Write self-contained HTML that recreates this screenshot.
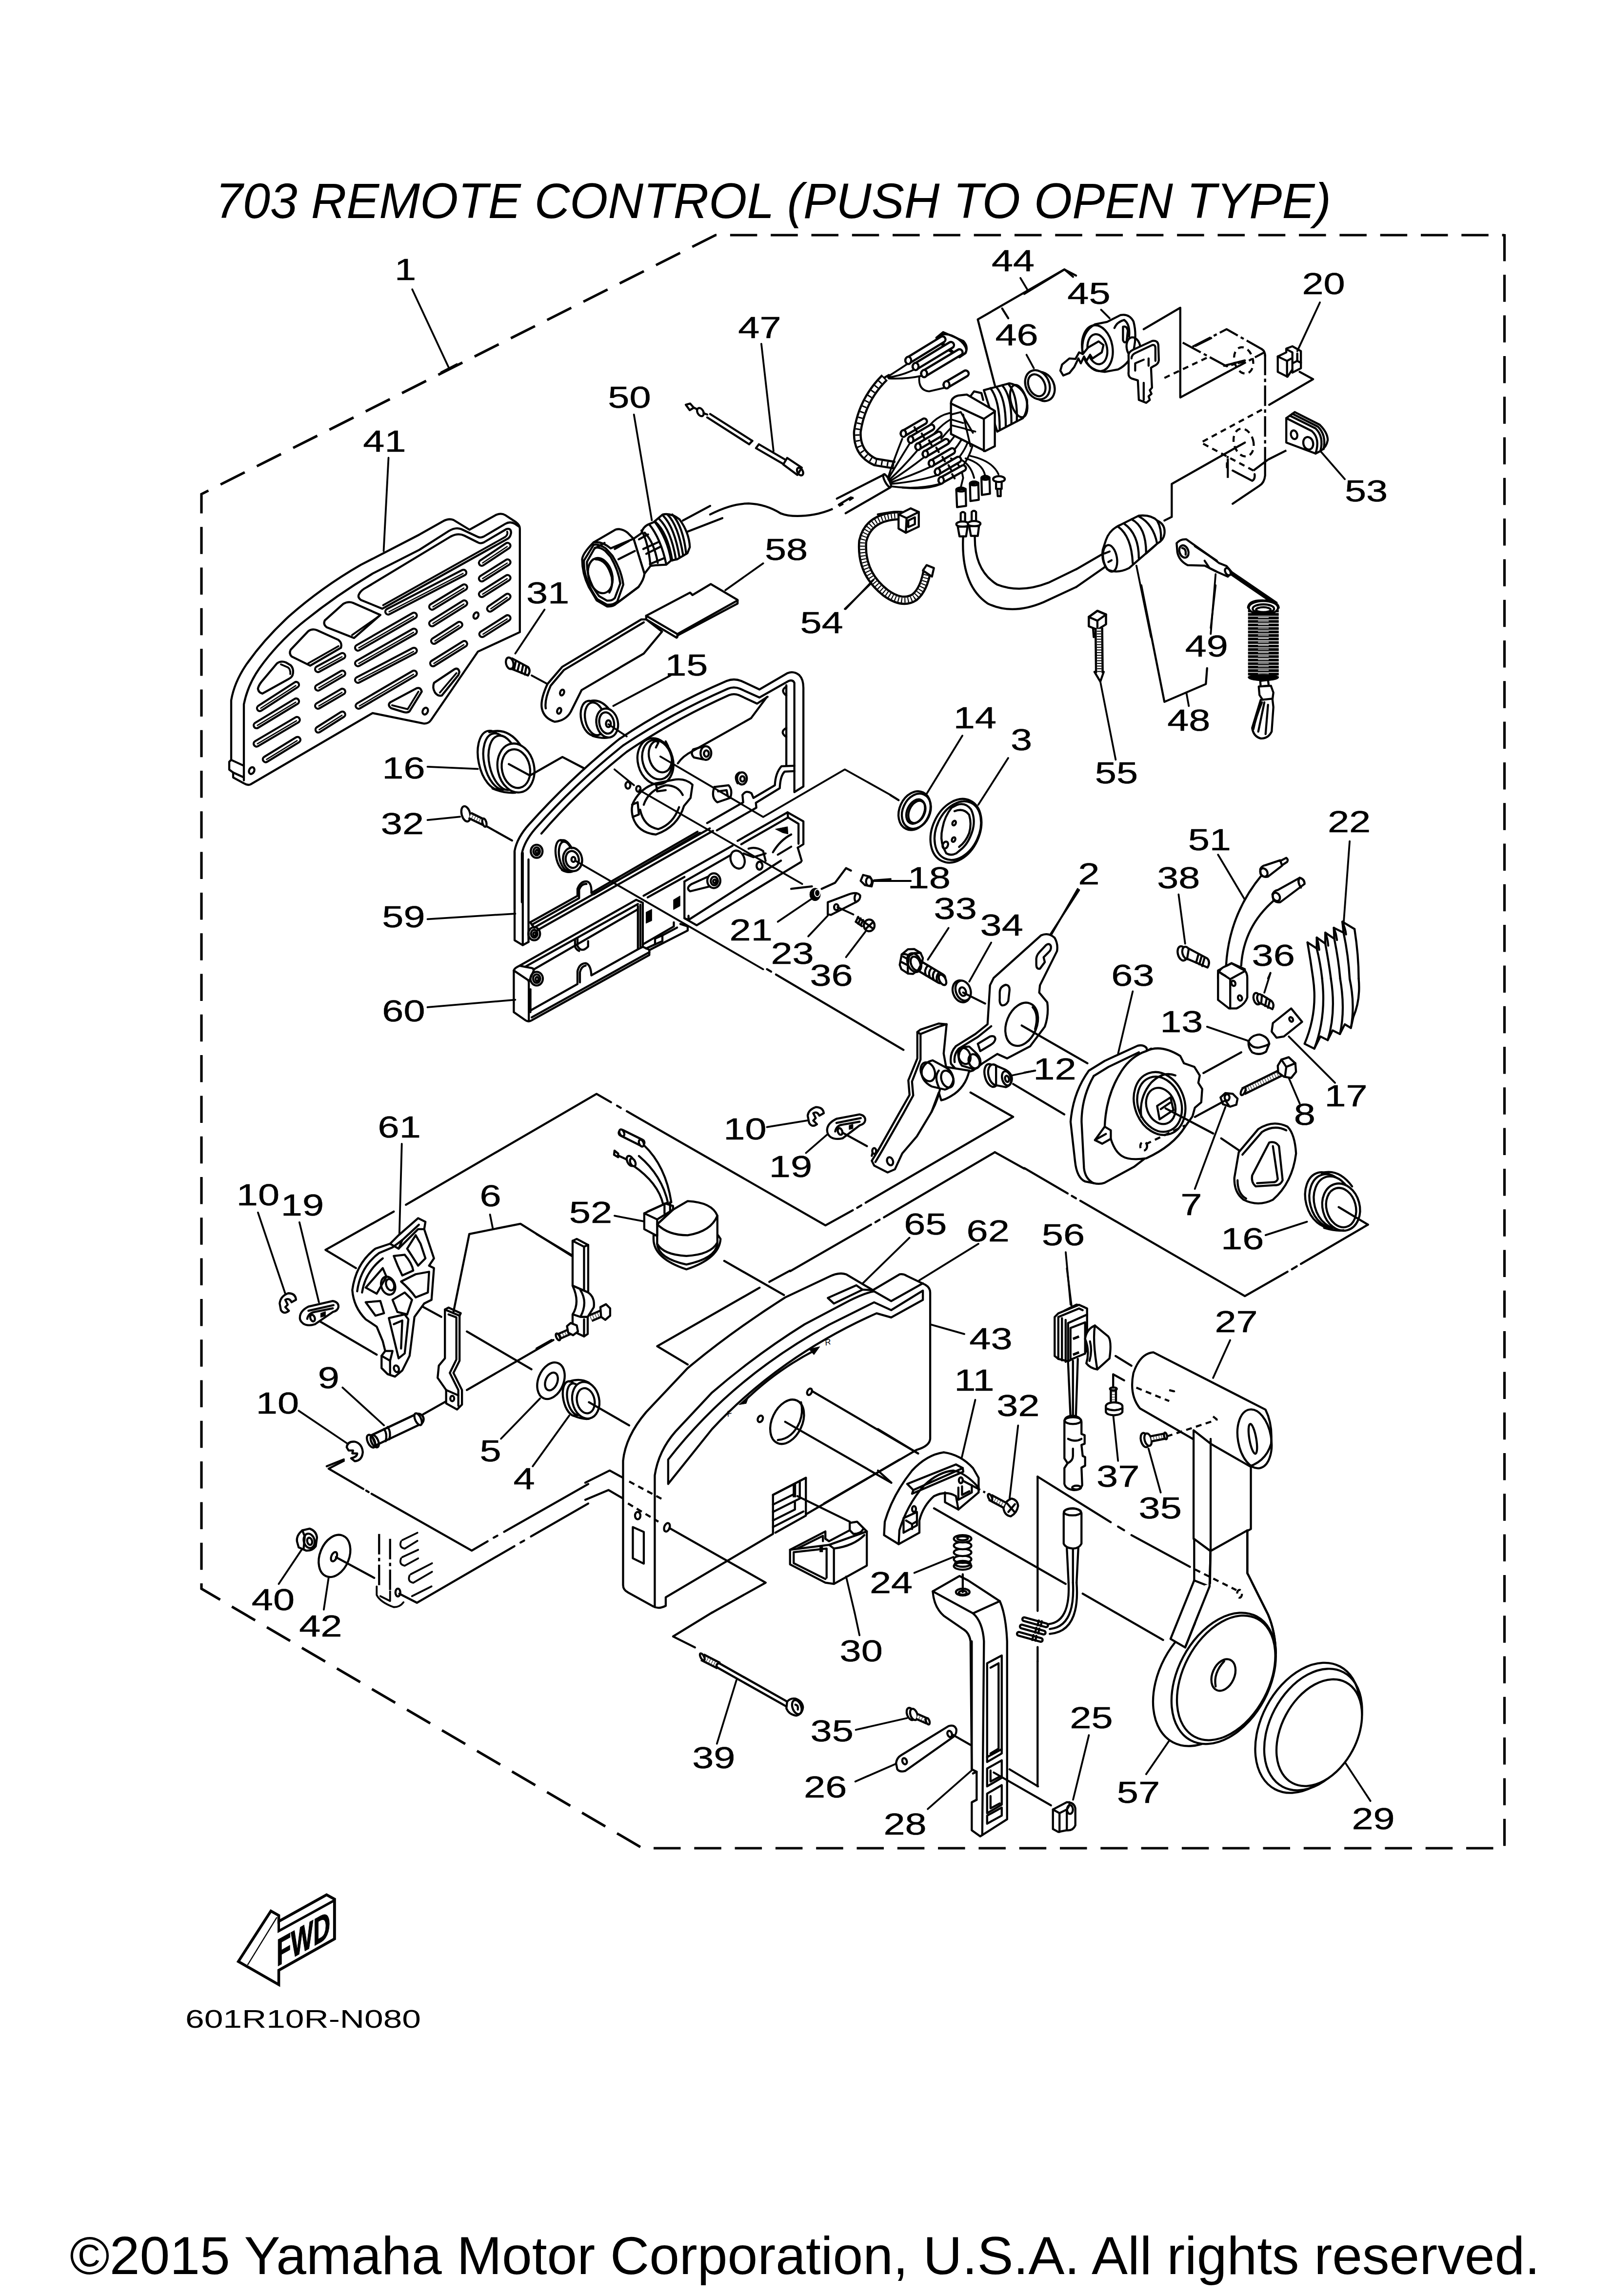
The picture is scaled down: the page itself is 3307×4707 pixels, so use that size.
<!DOCTYPE html>
<html lang="en">
<head>
<meta charset="utf-8">
<title>703 REMOTE CONTROL (PUSH TO OPEN TYPE)</title>
<style>
html,body{margin:0;padding:0;background:#fff;}
body{width:3307px;height:4707px;overflow:hidden;font-family:"Liberation Sans",sans-serif;}
svg{display:block;position:absolute;left:0;top:0;}
svg text{font-family:"Liberation Sans",sans-serif;fill:#000;}
.p,.f,.n,.c,.h,.w,.k{stroke:#000;stroke-width:4.3px;fill:none;stroke-linecap:round;stroke-linejoin:round;vector-effect:non-scaling-stroke;}
.f{fill:#fff;}
.w{fill:#fff;stroke:none;}
.n{stroke-width:3.8px;}
.b{fill:#000;stroke:#000;stroke-width:1px;vector-effect:non-scaling-stroke;}
.c{stroke-dasharray:110 14 10 14;stroke-linecap:butt;}
.k{stroke-dasharray:42 7 7 7;stroke-linecap:butt;}
.h{stroke-dasharray:12 9;stroke-linecap:butt;}
.so{stroke:#000;stroke-width:16px;fill:none;stroke-linecap:round;vector-effect:non-scaling-stroke;}
.si{stroke:#fff;stroke-width:7.6px;fill:none;stroke-linecap:round;vector-effect:non-scaling-stroke;}
.u{stroke:#000;fill:none;stroke-linecap:butt;stroke-linejoin:round;vector-effect:non-scaling-stroke;}
.ui{stroke:#fff;fill:none;stroke-linecap:butt;stroke-linejoin:round;vector-effect:non-scaling-stroke;}
.us{stroke:#000;fill:none;stroke-linecap:butt;vector-effect:non-scaling-stroke;}
.l{font-size:63px;text-anchor:middle;stroke:#000;stroke-width:0.5px;}
.border{stroke:#000;stroke-width:5.2px;fill:none;stroke-dasharray:55.5 27.8;stroke-linecap:butt;}
</style>
</head>
<body>
<svg width="3307" height="4707" viewBox="0 0 3307 4707">
<rect width="3307" height="4707" fill="#fff"/>
<text id="title" x="442" y="447" font-size="102" font-style="italic" textLength="2287" lengthAdjust="spacingAndGlyphs">703 REMOTE CONTROL (PUSH TO OPEN TYPE)</text>
<text id="code" x="380" y="4157" font-size="51" textLength="483" lengthAdjust="spacingAndGlyphs">601R10R-N080</text>
<text id="copy" x="143" y="4662" font-size="110" textLength="3014" lengthAdjust="spacingAndGlyphs">©2015 Yamaha Motor Corporation, U.S.A. All rights reserved.</text>
<path class="border" d="M3084.5 480V3789H1317L413 3257V1013L1467 482H3084.5"/>
<!-- a01_panel41.txt -->
<g transform="translate(460 1040) scale(0.39987)">
<path class="f" d="M25 1305 L35 1295 L35 990 Q50 900 110 810 Q200 680 330 560 Q500 410 700 295 L1000 140 L1120 72 Q1150 55 1175 65 L1257 115 L1395 38 Q1420 28 1440 40 L1495 76 Q1515 90 1515 110 L1515 640 L1300 740 L1060 1090 Q1045 1112 1020 1108 L760 1055 L135 1420 Q120 1428 100 1415 L45 1385 L45 1360 L25 1345 Z"/>
<path class="p" d="M100 1400 L100 1010 Q120 910 180 825 Q270 700 390 600 Q560 460 760 340 L1000 218 L1150 122 Q1185 100 1215 112 L1300 152 Q1313 158 1330 150 L1440 85 Q1465 70 1490 85 L1512 100"/>
<path class="p" d="M35 1295 L100 1325"/>
<path class="p" d="M45 1360 L100 1385"/>
<path class="f" d="M270 800 Q290 785 315 795 L340 810 Q355 825 352 850 Q350 870 330 880 L195 955 Q175 950 172 930 Q175 915 190 895 Z"/>
<path class="n" d="M290 805 L325 820 Q340 830 338 855"/>
<path class="f" d="M430 635 Q450 620 475 630 L585 680 Q605 695 598 720 L440 812 L345 765 Q330 750 340 730 Z"/>
<path class="n" d="M430 800 L585 712"/>
<path class="f" d="M610 495 Q635 480 660 490 L800 552 L665 670 L525 615 Q505 600 515 580 Z"/>
<path class="n" d="M655 655 L790 560"/>
<path class="f" d="M690 446 Q700 425 730 410 L1160 150 Q1198 130 1230 145 L1300 180 Q1313 188 1330 180 L1445 112 Q1470 105 1470 130 Q1468 150 1455 160 L810 520 L700 475 Q682 462 690 446 Z"/>
<path class="n" d="M814 502 L1440 152 Q1455 140 1450 125"/>
<path class="so" d="M182 1030L368 910"/><path class="si" d="M182 1030L368 910"/>
<path class="n" style="stroke-width:2.6px" d="M186.2 1030.3L365.9 914.4"/>
<path class="so" d="M165 1118L368 995"/><path class="si" d="M165 1118L368 995"/>
<path class="n" style="stroke-width:2.6px" d="M169.3 1118.4L365.9 999.3"/>
<path class="so" d="M165 1212L372 1090"/><path class="si" d="M165 1212L372 1090"/>
<path class="n" style="stroke-width:2.6px" d="M169.3 1212.5L369.8 1094.3"/>
<path class="so" d="M212 1292L375 1192"/><path class="si" d="M212 1292L375 1192"/>
<path class="n" style="stroke-width:2.6px" d="M216.3 1292.4L372.9 1196.3"/>
<path class="so" d="M480 830L605 762"/><path class="si" d="M480 830L605 762"/>
<path class="n" style="stroke-width:2.6px" d="M484.4 830.6L602.8 766.2"/>
<path class="so" d="M480 925L605 852"/><path class="si" d="M480 925L605 852"/>
<path class="n" style="stroke-width:2.6px" d="M484.3 925.5L602.8 856.3"/>
<path class="so" d="M480 1018L605 945"/><path class="si" d="M480 1018L605 945"/>
<path class="n" style="stroke-width:2.6px" d="M484.3 1018.5L602.8 949.3"/>
<path class="so" d="M482 1140L605 1062"/><path class="si" d="M482 1140L605 1062"/>
<path class="n" style="stroke-width:2.6px" d="M486.2 1140.3L602.9 1066.3"/>
<path class="so" d="M685 720L972 555"/><path class="si" d="M685 720L972 555"/>
<path class="n" style="stroke-width:2.6px" d="M689.3 720.5L969.8 559.2"/>
<path class="so" d="M685 800L972 637"/><path class="si" d="M685 800L972 637"/>
<path class="n" style="stroke-width:2.6px" d="M689.3 800.5L969.8 641.2"/>
<path class="so" d="M685 885L972 735"/><path class="si" d="M685 885L972 735"/>
<path class="n" style="stroke-width:2.6px" d="M689.4 885.7L969.8 739.2"/>
<path class="so" d="M688 1018L972 852"/><path class="si" d="M688 1018L972 852"/>
<path class="n" style="stroke-width:2.6px" d="M692.3 1018.5L969.8 856.3"/>
<path class="so" d="M840 535L1226 335"/><path class="si" d="M840 535L1226 335"/>
<path class="n" style="stroke-width:2.6px" d="M844.4 535.7L1223.8 339.2"/>
<path class="so" d="M1065 510L1230 410"/><path class="si" d="M1065 510L1230 410"/>
<path class="n" style="stroke-width:2.6px" d="M1069.3 510.4L1227.9 414.3"/>
<path class="so" d="M1065 595L1230 492"/><path class="si" d="M1065 595L1230 492"/>
<path class="n" style="stroke-width:2.6px" d="M1069.2 595.4L1227.9 496.3"/>
<path class="so" d="M1075 685L1205 602"/><path class="si" d="M1075 685L1205 602"/>
<path class="n" style="stroke-width:2.6px" d="M1079.2 685.3L1202.9 606.3"/>
<path class="so" d="M1070 800L1230 700"/><path class="si" d="M1070 800L1230 700"/>
<path class="n" style="stroke-width:2.6px" d="M1074.2 800.4L1227.9 704.3"/>
<path class="so" d="M1320 285L1452 197"/><path class="si" d="M1320 285L1452 197"/>
<path class="n" style="stroke-width:2.6px" d="M1324.2 285.2L1449.9 201.4"/>
<path class="so" d="M1320 365L1452 282"/><path class="si" d="M1320 365L1452 282"/>
<path class="n" style="stroke-width:2.6px" d="M1324.2 365.3L1449.9 286.3"/>
<path class="so" d="M1320 445L1452 362"/><path class="si" d="M1320 445L1452 362"/>
<path class="n" style="stroke-width:2.6px" d="M1324.2 445.3L1449.9 366.3"/>
<path class="so" d="M1362 520L1452 458"/><path class="si" d="M1362 520L1452 458"/>
<path class="n" style="stroke-width:2.6px" d="M1366.1 520.2L1449.9 462.4"/>
<path class="so" d="M1322 650L1452 568"/><path class="si" d="M1322 650L1452 568"/>
<path class="n" style="stroke-width:2.6px" d="M1326.2 650.3L1449.9 572.3"/>
<path class="f" d="M1180 830 Q1200 820 1205 845 L1200 860 L1115 965 Q1095 970 1080 950 Q1065 925 1075 900 Z"/>
<path class="n" d="M1190 850 L1105 950"/>
<path class="f" d="M985 928 Q1005 920 1012 945 L950 1045 Q940 1055 920 1050 L855 1030 Q835 1015 850 1000 Z"/>
<path class="n" d="M995 945 L940 1035 L860 1015"/>
<ellipse class="p" cx="1290" cy="555" rx="12" ry="17" transform="rotate(25 1290 555)"/>
<ellipse class="p" cx="1030" cy="1045" rx="13" ry="18" transform="rotate(25 1030 1045)"/>
<ellipse class="p" cx="140" cy="1350" rx="13" ry="18" transform="rotate(25 140 1350)"/>
</g>

<!-- a02_part60.txt -->
<g transform="translate(1040 1690) scale(0.33478)">
<path class="f" d="M40 895 Q45 878 75 866 L790 462 L830 480 L830 750 L870 768 L870 800 L150 1200 Q130 1212 112 1200 L40 1150 Z"/>
<path class="p" d="M40 895 L125 952 Q132 958 132 970 L132 1205"/>
<path class="p" d="M75 866 L150 880 Q168 884 160 900 L132 965"/>
<path class="p" d="M160 890 L800 520"/>
<path class="p" d="M110 872 L800 488"/>
<path class="p" d="M150 1182 L870 783"/>
<path class="p" d="M142 1150 L142 1010"/>
<path class="p" d="M142 1140 L430 978 L430 900 Q440 852 480 850 Q512 858 515 925 L800 765 L800 500"/>
<path class="p" d="M445 968 L445 905 Q455 868 480 865"/>
<path class="p" d="M430 700 L430 745 Q455 790 495 748 L495 715"/>
<path class="p" d="M415 710 L415 750 Q425 770 440 775"/>
<ellipse class="p" cx="180" cy="945" rx="38" ry="42"/>
<ellipse class="p" cx="180" cy="945" rx="22" ry="26"/>
<ellipse class="p" cx="182" cy="947" rx="9" ry="12"/>
<path class="p" d="M815 492 L815 748"/>
<path class="p" d="M800 765 L830 750"/>
<path class="p" d="M45 165 L45 710 L95 740 L130 720"/>
<path class="p" d="M95 175 L95 738"/>
<path class="p" d="M130 215 L130 720"/>
<ellipse class="p" cx="165" cy="670" rx="36" ry="40"/>
<ellipse class="p" cx="165" cy="670" rx="20" ry="24"/>
<ellipse class="p" cx="167" cy="672" rx="8" ry="11"/>
<ellipse class="p" cx="180" cy="165" rx="36" ry="40"/>
<ellipse class="p" cx="180" cy="165" rx="20" ry="24"/>
<ellipse class="p" cx="182" cy="167" rx="8" ry="11"/>
<path class="p" d="M140 600 L430 438 L430 395 Q450 345 490 350 Q518 360 515 420 L1165 45"/>
<path class="p" d="M150 615 L440 452 L440 400 Q455 362 485 365"/>
<path class="p" d="M530 428 L1180 52"/>
<path class="p" d="M165 632 L1240 25"/>
<path class="p" d="M185 648 L1260 40"/>
<path class="p" d="M140 600 L165 632"/>
<ellipse class="f" cx="340" cy="190" rx="42" ry="95" transform="rotate(-10 340 190)"/>
<ellipse class="f" cx="360" cy="195" rx="42" ry="90" transform="rotate(-10 360 195)"/>
<ellipse class="f" cx="400" cy="215" rx="58" ry="72" transform="rotate(-10 400 215)"/>
<ellipse class="p" cx="398" cy="215" rx="40" ry="52" transform="rotate(-10 398 215)"/>
<ellipse class="p" cx="405" cy="215" rx="12" ry="15"/>
<path class="p" d="M330 100 Q360 85 395 145"/>
<path class="p" d="M335 280 Q370 300 400 288"/>
<path class="b" d="M850 538 L885 520 L885 590 L850 606 Z"/>
<path class="b" d="M1018 462 L1058 438 L1058 500 L1018 522 Z"/>
<path class="p" d="M1085 350 L1085 575 L1160 618 L1798 231"/>
<path class="p" d="M1085 350 L1400 170"/>
<path class="p" d="M835 437 L1380 130"/>
<path class="p" d="M860 447 L1085 322"/>
<path class="p" d="M1110 585 L1676 222"/>
<path class="p" d="M1085 575 L1110 585 L1110 560"/>
<path class="p" d="M830 735 L1020 625 L1020 600"/>
<path class="p" d="M870 770 L1105 650 L1105 625 L1060 610"/>
<path class="p" d="M905 735 L905 700 L950 680 L950 715 Z"/>
<path class="p" d="M850 760 L905 735"/>
<path class="p" d="M950 680 L1040 632"/>
<ellipse class="f" cx="1265" cy="345" rx="40" ry="45"/>
<ellipse class="p" cx="1268" cy="347" rx="22" ry="26"/>
<ellipse class="p" cx="1270" cy="349" rx="9" ry="11"/>
<path class="p" d="M1230 320 L1130 365 Q1090 390 1120 410 L1240 380"/>
</g>

<!-- a03_housing59.txt -->
<g transform="translate(1020 1350) scale(0.49970)">
<path class="p" d="M70 1030 L70 790 Q80 735 130 680 Q300 490 500 330 Q700 195 940 92 Q970 80 1000 92 L1075 127 L1190 60 Q1215 50 1238 68 Q1255 85 1255 120 L1255 525 L1218 548"/>
<path class="p" d="M100 1000 L100 800 Q110 750 155 698 Q320 512 515 357 Q710 227 945 124 Q970 114 995 124 L1075 160 L1195 92 Q1212 86 1218 100 L1218 545"/>
<path class="p" d="M180 718 Q335 538 530 383 Q720 253 950 150 Q970 143 990 150 L1065 185 L1108 157"/>
<path class="p" d="M1105 158 L1040 245 L800 380 Q760 400 740 430"/>
<path class="p" d="M1185 110 L1185 440"/>
<path class="p" d="M1185 115 Q1158 132 1185 152"/>
<path class="p" d="M1185 285 Q1155 302 1185 322"/>
<path class="p" d="M1218 440 L1165 442 Q1140 470 1138 520 L1050 572 L1042 553 Q1020 538 1005 560 L1008 590 L860 675"/>
<path class="p" d="M1218 462 L1178 464 Q1160 482 1158 532 L1060 592 L1062 612 L900 705"/>
<ellipse class="f" cx="855" cy="388" rx="22" ry="28"/>
<ellipse class="p" cx="857" cy="390" rx="10" ry="13"/>
<path class="p" d="M840 362 L803 373 Q790 390 806 406 L845 414"/>
<ellipse class="f" cx="1003" cy="492" rx="20" ry="25"/>
<ellipse class="p" cx="1005" cy="494" rx="9" ry="11"/>
<path class="p" d="M992 468 Q968 480 985 512"/>
<ellipse class="p" cx="648" cy="422" rx="72" ry="96" transform="rotate(-15 648 422)"/>
<ellipse class="p" cx="655" cy="415" rx="60" ry="82" transform="rotate(-15 655 415)"/>
<ellipse class="p" cx="668" cy="402" rx="46" ry="66" transform="rotate(-15 668 402)"/>
<path class="p" d="M640 330 L660 345 L650 365"/>
<path class="p" d="M690 340 L700 360"/>
<path class="p" d="M560 585 Q590 530 650 512 L720 498 Q770 488 800 518 L792 572 L765 605 Q740 690 650 722 Q575 715 555 650 Q545 610 560 585"/>
<path class="p" d="M600 600 Q620 540 690 520 Q740 520 760 560"/>
<path class="p" d="M585 620 Q600 690 660 700 Q720 680 745 610"/>
<path class="p" d="M650 512 L655 545 L690 540"/>
<path class="p" d="M552 600 L575 590 L580 640 L555 650"/>
<ellipse class="p" cx="535" cy="520" rx="10" ry="14"/>
<ellipse class="p" cx="578" cy="535" rx="9" ry="12"/>
<path class="p" d="M890 527 L948 520 Q966 540 955 572 L902 590 Q874 570 890 527"/>
<path class="p" d="M905 545 L940 540 L945 565"/>
<path class="p" d="M985 748 L1190 631 L1255 668 L1255 762 L1232 776"/>
<path class="p" d="M1000 762 L1192 652 L1235 678 L1235 760"/>
<path class="p" d="M1190 631 L1192 652"/>
<path class="p" d="M1130 795 Q1160 745 1205 722"/>
<path class="p" d="M1150 805 L1205 772"/>
<path class="b" d="M1140 700 L1190 690 L1192 720 L1170 715 Z"/>
<path class="p" d="M1232 776 L1248 830"/>
<ellipse class="f" cx="985" cy="825" rx="28" ry="38" transform="rotate(-20 985 825)"/>
<path class="p" d="M1010 800 L1050 815 L1100 800"/>
<ellipse class="p" cx="1075" cy="850" rx="12" ry="16"/>
<path class="p" d="M1030 780 Q1060 770 1090 790 L1100 830"/>
<path class="n" d="M668 402 L1090 650 L1425 455 L1613 560"/>
<path class="n" d="M582 540 L1250 925"/>
<path class="n" d="M320 830 L1090 1275"/>
<path class="n" d="M480 455 L560 520"/>
<ellipse class="b" cx="1303" cy="968" rx="22" ry="26"/>
<ellipse cx="1312" cy="962" rx="11" ry="15" style="fill:none;stroke:#fff;stroke-width:2px;vector-effect:non-scaling-stroke"/>
<path class="p" d="M1205 945 L1290 935"/>
<path class="p" d="M1330 945 L1385 920 L1430 860 L1450 870"/>
<path class="n" d="M1150 1080L1290 985"/>
<path class="f" d="M1355 1000 L1440 968 Q1475 955 1488 972 Q1490 990 1470 1000 L1368 1052 L1355 1050 Z"/>
<ellipse class="p" cx="1390" cy="1020" rx="9" ry="12"/>
<path class="p" d="M1470 965 Q1460 985 1470 1000"/>
<path class="n" d="M1355 1055L1275 1140"/>
<path class="n" d="M1395 1020 L1460 1050"/>
<ellipse class="f" cx="1525" cy="1095" rx="22" ry="24"/>
<path class="p" d="M1510 1085 L1540 1108 M1512 1108 L1538 1084"/>
<path class="p" d="M1505 1080 L1478 1062 M1495 1098 L1470 1080"/>
<path class="p" d="M1480 1060 L1470 1080 M1490 1066 L1480 1088 M1500 1073 L1490 1094"/>
<path class="n" d="M1510 1120L1430 1225"/>
<path class="f" d="M1500 888 L1528 895 L1540 915 L1535 935 L1508 930 L1490 912 Z"/>
<ellipse class="p" cx="1524" cy="915" rx="12" ry="18"/>
<path class="n" d="M1545 910L1613 905"/>
</g>

<!-- a04_conn50.txt -->
<g transform="translate(1000 1000) scale(0.49970)">
<path class="f" d="M650 525 L830 430 L840 440 L915 395 L1025 460 L1025 475 L780 605 L775 615 L650 540 Z"/>
<path class="p" d="M650 525 L778 600 L1025 462"/>
<path class="p" d="M778 600 L778 612"/>
<path class="f" d="M630 540 L305 735 L245 805 Q215 870 222 905 Q230 945 275 960 Q320 955 340 920 L385 830 L640 680 L715 590 L650 540 Z"/>
<path class="p" d="M640 552 L312 748 L258 812 Q232 870 238 905"/>
<ellipse class="p" cx="305" cy="840" rx="8" ry="12" transform="rotate(20 305 840)"/>
<ellipse class="p" cx="293" cy="915" rx="8" ry="12" transform="rotate(20 293 915)"/>
<path class="n" d="M1130 310L975 420"/>
<ellipse class="f" cx="90" cy="720" rx="15" ry="24" transform="rotate(-15 90 720)"/>
<path class="p" d="M100 700 L165 735 Q178 750 165 770 L95 742"/>
<path class="p" d="M115 712 L108 745 M130 720 L122 752 M145 728 L138 760 M158 736 L152 766"/>
<path class="n" d="M180 770 L245 805"/>
<ellipse class="f" cx="425" cy="945" rx="42" ry="72" transform="rotate(-12 425 945)"/>
<ellipse class="f" cx="440" cy="948" rx="40" ry="68" transform="rotate(-12 440 948)"/>
<ellipse class="f" cx="490" cy="965" rx="44" ry="60" transform="rotate(-12 490 965)"/>
<ellipse class="p" cx="488" cy="965" rx="30" ry="44" transform="rotate(-12 488 965)"/>
<ellipse class="p" cx="495" cy="968" rx="10" ry="14"/>
<path class="p" d="M420 875 Q460 865 495 905"/>
<path class="p" d="M430 1018 Q470 1030 495 1025"/>
<path class="n" d="M495 970 L570 1020"/>
<path class="n" d="M750 770L515 895"/>
<path class="n" d="M1465 497L1590 375"/>
</g>

<!-- a05_switch44.txt -->
<g transform="translate(1400 500) scale(0.49970)">
<path class="p" d="M12 660 L30 655 L45 672 L28 682 Z"/>
<path class="p" d="M45 672 L62 680"/>
<ellipse class="f" cx="72" cy="690" rx="12" ry="18" transform="rotate(-30 72 690)"/>
<path class="p" d="M85 695 L100 700"/>
<path class="p" d="M100 712 L272 822 M112 698 L285 808"/>
<path class="p" d="M272 822 L285 808"/>
<path class="p" d="M300 838 L312 822 L420 885 M300 838 L410 902"/>
<path class="f" d="M412 905 L428 878 L488 918 L470 948 Z"/>
<ellipse class="p" cx="481" cy="934" rx="11" ry="17" transform="rotate(-30 481 934)"/>
<path class="n" d="M322 410L372 850"/>
<path class="p" d="M0 1135 L112 1075 M20 1180 L162 1125"/>
<path class="p" d="M112 1110 Q200 1065 270 1065 Q340 1068 400 1105"/>
<path class="c" d="M400 1105 Q450 1125 540 1110 Q620 1095 700 1040"/>
<path class="p" d="M632 1045 L828 945 M668 1105 L850 1000"/>
<path class="p" d="M640 1070 L690 1040"/>
<ellipse class="p" cx="838" cy="972" rx="9" ry="30" transform="rotate(-28 838 972)"/>
<path class="u" style="stroke-width:18px" d="M828 548 Q735 640 716 770 Q712 860 790 895 L870 908"/><path class="ui" style="stroke-width:9px" d="M828 548 Q735 640 716 770 Q712 860 790 895 L870 908"/><path class="us" style="stroke-width:9px;stroke-dasharray:3 9" d="M828 548 Q735 640 716 770 Q712 860 790 895 L870 908"/>
<path class="p" d="M828 548 L845 538"/>
<path class="n" d="M842 960 Q860 900 900 800 M842 965 Q880 900 930 820 M845 970 Q900 920 960 850 M848 975 Q920 930 990 875 M850 980 Q940 950 1015 915 M852 985 Q960 975 1040 950 M855 995 Q960 1010 1055 985"/>
<path class="n" d="M840 545 Q880 520 925 490 M842 548 Q900 540 950 515 M845 552 Q920 555 985 540"/>
<path class="n" d="M970 545 Q965 600 1010 605 L1075 590"/>
<path class="n" d="M1000 760 Q1050 690 1130 690 M1030 780 Q1080 720 1135 705 M1060 800 Q1110 740 1140 720 M1090 820 Q1130 770 1150 740 M1110 850 Q1150 800 1165 760 M1130 880 Q1170 830 1180 775 M1150 910 Q1190 850 1195 790"/>
<path class="n" d="M1100 880 Q1140 900 1150 960 L1140 1000 M1130 880 Q1180 900 1195 960 M1160 880 Q1230 900 1240 950 M1180 870 Q1270 890 1295 945"/>
<path class="n" d="M900 1000 Q1000 1010 1060 985"/>
<path class="f" d="M1040 385 L1068 362 L1150 398 Q1172 420 1160 448 L1135 465 Z"/>
<ellipse class="p" cx="1108" cy="412" rx="62" ry="30" transform="rotate(32 1108 412)"/>
<path class="u" style="stroke-width:17px;stroke-linecap:round" d="M925 478 L1065 392"/><path class="ui" style="stroke-width:8px;stroke-linecap:round" d="M925 478 L1065 392"/>
<path class="u" style="stroke-width:17px;stroke-linecap:round" d="M955 503 L1100 415"/><path class="ui" style="stroke-width:8px;stroke-linecap:round" d="M955 503 L1100 415"/>
<path class="u" style="stroke-width:17px;stroke-linecap:round" d="M990 532 L1135 445"/><path class="ui" style="stroke-width:8px;stroke-linecap:round" d="M990 532 L1135 445"/>
<ellipse class="f" cx="925" cy="478" rx="12" ry="15"/>
<ellipse class="f" cx="955" cy="503" rx="12" ry="15"/>
<ellipse class="f" cx="990" cy="532" rx="12" ry="15"/>
<path class="u" style="stroke-width:17px;stroke-linecap:round" d="M1082 578 L1160 532"/><path class="ui" style="stroke-width:8px;stroke-linecap:round" d="M1082 578 L1160 532"/>
<ellipse class="f" cx="1082" cy="578" rx="12" ry="15"/>
<path class="u" style="stroke-width:16px;stroke-linecap:round" d="M905 778 L990 728"/><path class="ui" style="stroke-width:7px;stroke-linecap:round" d="M905 778 L990 728"/>
<path class="u" style="stroke-width:16px;stroke-linecap:round" d="M935 803 L1020 753"/><path class="ui" style="stroke-width:7px;stroke-linecap:round" d="M935 803 L1020 753"/>
<path class="u" style="stroke-width:16px;stroke-linecap:round" d="M965 832 L1050 782"/><path class="ui" style="stroke-width:7px;stroke-linecap:round" d="M965 832 L1050 782"/>
<path class="u" style="stroke-width:16px;stroke-linecap:round" d="M995 862 L1080 812"/><path class="ui" style="stroke-width:7px;stroke-linecap:round" d="M995 862 L1080 812"/>
<path class="u" style="stroke-width:16px;stroke-linecap:round" d="M1020 900 L1105 850"/><path class="ui" style="stroke-width:7px;stroke-linecap:round" d="M1020 900 L1105 850"/>
<path class="u" style="stroke-width:16px;stroke-linecap:round" d="M1045 935 L1130 885"/><path class="ui" style="stroke-width:7px;stroke-linecap:round" d="M1045 935 L1130 885"/>
<path class="u" style="stroke-width:16px;stroke-linecap:round" d="M1060 970 L1150 920"/><path class="ui" style="stroke-width:7px;stroke-linecap:round" d="M1060 970 L1150 920"/>
<ellipse class="f" cx="905" cy="778" rx="11" ry="14"/>
<ellipse class="f" cx="935" cy="803" rx="11" ry="14"/>
<ellipse class="f" cx="965" cy="832" rx="11" ry="14"/>
<ellipse class="f" cx="995" cy="862" rx="11" ry="14"/>
<ellipse class="f" cx="1020" cy="900" rx="11" ry="14"/>
<ellipse class="f" cx="1045" cy="935" rx="11" ry="14"/>
<ellipse class="f" cx="1060" cy="970" rx="11" ry="14"/>
<path class="p" d="M950 752 L960 770 M980 778 L990 796 M1010 806 L1020 824 M1040 836 L1050 854 M1065 874 L1075 892 M1090 908 L1100 926 M1105 945 L1115 962"/>
<path class="f" d="M1122 1010 L1160 1005 L1162 1075 L1125 1080 Z"/>
<ellipse class="p" cx="1141" cy="1008" rx="19" ry="8"/>
<path class="f" d="M1178 985 L1212 980 L1214 1050 L1180 1055 Z"/>
<ellipse class="p" cx="1195" cy="983" rx="17" ry="8"/>
<path class="f" d="M1225 962 L1258 958 L1260 1025 L1227 1030 Z"/>
<ellipse class="p" cx="1241" cy="960" rx="16" ry="8"/>
<ellipse class="f" cx="1297" cy="965" rx="24" ry="12"/>
<path class="p" d="M1285 975 L1285 1005 L1308 1005 L1308 975 M1290 1005 L1292 1035 L1304 1035 L1304 1005"/>
<path class="p" d="M1140 1105 L1140 1140 M1158 1105 L1158 1140 M1140 1105 Q1149 1095 1158 1105"/>
<ellipse class="f" cx="1148" cy="1150" rx="26" ry="11"/>
<path class="f" d="M1128 1160 L1168 1160 L1162 1200 L1135 1200 Z"/>
<path class="p" d="M1185 1100 L1185 1138 M1203 1100 L1203 1138 M1185 1100 Q1194 1090 1203 1100"/>
<ellipse class="f" cx="1195" cy="1148" rx="26" ry="11"/>
<path class="f" d="M1175 1158 L1215 1158 L1210 1198 L1182 1198 Z"/>
<path class="p" d="M1150 1200 Q1140 1400 1250 1475 Q1350 1525 1480 1470 L1613 1408"/>
<path class="p" d="M1198 1198 Q1195 1340 1290 1398 Q1385 1435 1500 1390 L1613 1335"/>
<path class="f" d="M1235 600 L1340 572 Q1390 580 1412 640 Q1415 690 1395 715 L1290 770 Z"/>
<ellipse class="p" cx="1378" cy="645" rx="32" ry="68" transform="rotate(-15 1378 645)"/>
<path class="p" d="M1262 592 Q1300 640 1300 760 M1285 586 Q1325 630 1325 750 M1310 580 Q1350 625 1348 738 M1335 574 Q1375 620 1370 728"/>
<path class="f" d="M1100 655 Q1100 630 1130 622 L1165 618 L1280 685 L1280 830 L1240 850 L1100 780 Z"/>
<path class="p" d="M1100 655 L1235 718 L1235 850 M1235 718 L1280 688"/>
<path class="p" d="M1180 625 L1195 605 L1225 612 L1232 640"/>
<path class="n" d="M1100 700 L1140 690 M1100 720 L1150 735 M1105 745 L1165 760 M1140 690 L1190 775 M1150 700 L1180 830 M1160 760 L1200 770"/>
<ellipse class="f" cx="1475" cy="585" rx="48" ry="62" transform="rotate(-25 1475 585)"/>
<ellipse class="f" cx="1455" cy="578" rx="48" ry="62" transform="rotate(-25 1455 578)"/>
<ellipse class="p" cx="1452" cy="580" rx="33" ry="47" transform="rotate(-25 1452 580)"/>
<path class="p" d="M1280 580 L1210 310 L1565 105 L1613 130"/>
<path class="p" d="M1310 265 L1335 305"/>
<path class="n" d="M1385 140L1415 190"/>
<path class="n" d="M1410 455L1440 510"/>
<path class="u" style="stroke-width:19px" d="M885 1115 Q760 1120 738 1220 Q728 1350 830 1430 Q900 1482 950 1450 Q990 1418 1003 1335"/><path class="ui" style="stroke-width:10px" d="M885 1115 Q760 1120 738 1220 Q728 1350 830 1430 Q900 1482 950 1450 Q990 1418 1003 1335"/><path class="us" style="stroke-width:10px;stroke-dasharray:2.2 4.5" d="M885 1115 Q760 1120 738 1220 Q728 1350 830 1430 Q900 1482 950 1450 Q990 1418 1003 1335"/>
<path class="f" d="M885 1110 L935 1085 L968 1100 L968 1160 L915 1185 L885 1168 Z"/>
<path class="p" d="M885 1110 L918 1125 L968 1100 M918 1125 L915 1185"/>
<path class="p" d="M925 1135 L952 1122 L952 1150 L925 1162 Z"/>
<path class="f" d="M985 1340 L1000 1318 L1030 1330 L1022 1365 Z"/>
<path class="p" d="M800 1110 Q870 1095 900 1100"/>
<path class="n" d="M668 1498L782 1378"/>
</g>

<!-- a06_key45.txt -->
<g transform="translate(2100 500) scale(0.49970)">
<path class="p" d="M0 205 L165 105 L200 135"/>
<path class="n" d="M315 270L350 305"/>
<path class="f" d="M340 320 L395 292 Q430 285 448 318 Q462 370 450 430 Q435 490 385 515 L330 525 Q250 520 238 440 Q235 360 290 330 Z"/>
<ellipse class="p" cx="300" cy="428" rx="62" ry="95" transform="rotate(-10 300 428)"/>
<ellipse class="p" cx="300" cy="432" rx="40" ry="62" transform="rotate(-10 300 432)"/>
<path class="p" d="M370 345 Q380 320 410 312 M410 312 Q435 330 430 380"/>
<path class="p" d="M405 340 Q420 335 425 355 L420 400 Q410 410 405 395 Z"/>
<path class="f" d="M305 400 L325 415 L318 445 L280 470 L270 455 L255 480 L245 462 L232 490 L222 470 L205 505 L185 530 L160 540 L148 520 L155 495 L185 470 L210 472 L225 445 L240 452 L262 425 Z"/>
<ellipse class="p" cx="448" cy="425" rx="28" ry="42" transform="rotate(-10 448 425)"/>
<path class="f" d="M428 462 Q425 445 445 435 L525 398 Q548 395 550 415 L552 478 Q550 495 530 502 L520 508 L524 590 L515 600 L522 615 L510 625 L515 640 L500 652 L470 640 L466 560 L440 552 Q425 545 428 525 Z"/>
<path class="p" d="M440 470 Q440 455 455 448 L525 415 Q538 412 538 428 L538 480"/>
<path class="p" d="M455 520 L455 490 L490 475 M510 500 L510 470"/>
<path class="p" d="M490 570 L490 640"/>
<path class="p" d="M490 350 L640 262 L640 630 L835 525"/>
<path class="k" d="M835 525 L985 445"/>
<path class="k" d="M690 422 L830 350 L975 432"/>
<path class="k" d="M988 455 L988 905"/>
<path class="p" d="M975 432 Q988 440 988 460"/>
<path class="p" d="M988 900 L988 950 Q985 980 965 992 L855 1066"/>
<path class="k" d="M650 405 L830 502 L905 482"/>
<path class="h" d="M575 550 L760 462"/>
<path class="k" d="M700 420 L770 385"/>
<path class="h" d="M832 920 Q830 900 835 870"/>
<path class="k" d="M835 880 L835 960"/>
<path class="p" d="M855 930 L935 972 Q948 965 945 945"/>
<ellipse class="h" cx="900" cy="478" rx="38" ry="55" transform="rotate(-15 900 478)"/>
<ellipse class="h" cx="900" cy="815" rx="40" ry="58" transform="rotate(-15 900 815)"/>
<path class="p" d="M820 500 L905 478"/>
<path class="f" d="M1040 462 L1075 445 L1075 430 L1100 420 L1135 440 L1135 510 L1100 528 L1100 515 L1080 545 L1040 525 Z"/>
<path class="p" d="M1040 462 L1078 480 L1078 545 M1078 480 L1100 468 L1100 445 L1075 432 M1100 468 L1100 515 M1100 490 L1120 480 L1120 450 M1120 480 L1135 488"/>
<path class="n" d="M1213 240L1120 440"/>
<path class="p" d="M1130 525 L1185 555 L1005 660"/>
<path class="h" d="M975 680 L725 815 L940 930"/>
<path class="k" d="M940 930 L1000 885"/>
<path class="k" d="M1000 885 L1080 845"/>
<path class="f" d="M1075 715 L1110 690 L1212 742 Q1245 775 1245 805 Q1240 835 1215 850 L1195 860 L1075 815 Z"/>
<path class="p" d="M1075 715 L1180 768 Q1215 800 1195 860"/>
<path class="p" d="M1090 705 L1195 757 Q1230 790 1215 850"/>
<path class="p" d="M1100 697 L1205 750 Q1240 785 1228 842"/>
<ellipse class="p" cx="1107" cy="783" rx="13" ry="18" transform="rotate(-15 1107 783)"/>
<ellipse class="p" cx="1165" cy="818" rx="20" ry="26" transform="rotate(-15 1165 818)"/>
<path class="n" d="M1315 965L1215 850"/>
<path class="p" d="M905 815 L605 985 L605 1120 L575 1135"/>
<path class="f" d="M335 1215 Q350 1170 400 1150 L470 1115 Q520 1110 545 1135 Q580 1150 575 1190 Q572 1215 545 1230 L430 1330 Q380 1355 340 1335 Q315 1300 322 1255 Z"/>
<ellipse class="p" cx="352" cy="1290" rx="28" ry="55" transform="rotate(-10 352 1290)"/>
<path class="p" d="M385 1160 Q440 1200 445 1310 M410 1148 Q470 1190 470 1290"/>
<path class="p" d="M440 1130 Q500 1160 500 1270 L540 1235"/>
<path class="p" d="M470 1118 Q530 1150 545 1230"/>
<path class="p" d="M545 1135 Q565 1170 560 1215"/>
<path class="p" d="M330 1270 L350 1262 M345 1305 L358 1298"/>
<path class="p" d="M213 1335 L325 1270"/>
<path class="p" d="M213 1408 L332 1325"/>
<path class="n" d="M460 1320L520 1613"/>
<path class="f" d="M625 1228 Q640 1210 665 1212 L760 1280 L800 1310 L830 1322 L850 1345 L835 1365 L790 1345 L740 1320 L670 1318 Q635 1300 628 1265 Z"/>
<ellipse class="p" cx="655" cy="1262" rx="18" ry="26" transform="rotate(-20 655 1262)"/>
<path class="p" d="M648 1248 Q665 1250 662 1275"/>
<path class="p" d="M700 1240 L790 1300 M740 1300 L760 1330 L790 1345"/>
<ellipse class="f" cx="835" cy="1345" rx="10" ry="16" transform="rotate(-30 835 1345)"/>
<path d="M848 1350 L1035 1478" style="stroke:#000;stroke-width:9px;fill:none;vector-effect:non-scaling-stroke"/>
<path class="n" d="M785 1355L765 1600"/>
<path class="f" d="M265 1530 L300 1505 L335 1520 L335 1560 L300 1582 L265 1568 Z"/>
<path class="p" d="M265 1530 L300 1545 L335 1520 M300 1545 L300 1582"/>
<path class="p" d="M282 1575 L285 1613 M318 1572 L320 1613"/>
</g>

<!-- a07_coil.txt -->
<g transform="translate(2100 1200) scale(0.49970)">
<path d="M981 85 L981 378" style="stroke:#000;stroke-width:63px;fill:none;vector-effect:non-scaling-stroke;stroke-dasharray:5.6 1.6"/>
<path d="M981 100 L981 370" style="stroke:#fff;stroke-width:22px;fill:none;vector-effect:non-scaling-stroke;stroke-dasharray:1.4 5.8;stroke-dashoffset:-1"/>
<ellipse class="b" cx="981" cy="378" rx="63" ry="14"/>
<ellipse class="f" cx="981" cy="92" rx="60" ry="28"/>
<ellipse class="p" cx="981" cy="96" rx="44" ry="18"/>
<ellipse class="p" cx="981" cy="100" rx="30" ry="10"/>
<path class="p" d="M918 92 Q920 60 981 62 Q1040 62 1044 92"/>
<path class="f" d="M968 392 L1000 388 L1003 412 L970 415 Z"/>
<path class="f" d="M962 415 L1012 412 L1022 440 L1018 470 L985 480 L965 450 Z"/>
<path class="f" d="M970 470 L1018 465 L1022 500 L1015 600 Q1000 630 970 628 Q940 620 935 585 Z"/>
<path class="p" d="M975 480 Q950 540 940 590 M1000 490 L990 610 M985 480 L960 600"/>
<path class="f" d="M265 130 L300 105 L335 120 L335 160 L300 182 L265 168 Z"/>
<path class="p" d="M265 130 L300 145 L335 120 M300 145 L300 182"/>
<path class="u" style="stroke-width:18px" d="M306 175 L308 360"/><path class="ui" style="stroke-width:9px" d="M306 175 L308 360"/><path class="us" style="stroke-width:9px;stroke-dasharray:2 3.5" d="M306 175 L308 360"/>
<path class="p" d="M288 355 L312 395 L326 355"/>
<path class="n" d="M312 395L375 715"/>
<path class="p" d="M480 0 L575 478 L745 405 L750 340"/>
<path class="n" d="M665 440L675 495"/>
<path class="n" d="M785 0L765 175"/>
<path class="n" d="M1335 1050L1310 1390"/>
<path class="n" d="M795 1105L905 1290"/>
<path class="n" d="M633 1268L660 1470"/>
<path class="n" d="M225 1250L105 1435"/>
<path class="n" d="M1010 1590L1000 1613"/>
<path class="p" d="M828 1560 Q840 1350 975 1188 M890 1560 Q900 1400 1025 1292"/>
<path class="f" d="M968 1165 Q975 1150 990 1148 L1050 1128 L1058 1150 L1000 1195 Q980 1200 970 1185 Z"/>
<ellipse class="p" cx="983" cy="1178" rx="14" ry="18" transform="rotate(-30 983 1178)"/>
<path class="p" d="M1052 1130 L1075 1118 Q1085 1125 1078 1135 L1058 1148"/>
<path class="f" d="M1018 1268 Q1025 1252 1040 1250 L1130 1200 Q1150 1205 1150 1225 L1050 1300 Q1030 1302 1022 1290 Z"/>
<ellipse class="p" cx="1034" cy="1278" rx="14" ry="18" transform="rotate(-30 1034 1278)"/>
<path class="p" d="M1130 1200 Q1118 1215 1135 1240"/>
<ellipse class="f" cx="648" cy="1510" rx="18" ry="30" transform="rotate(-15 648 1510)"/>
<ellipse class="f" cx="665" cy="1508" rx="16" ry="26" transform="rotate(-15 665 1508)"/>
<path class="f" d="M675 1490 L750 1530 Q765 1545 752 1568 L668 1532 Z"/>
<path class="p" d="M715 1512 L705 1548 M728 1520 L718 1555 M740 1527 L730 1562"/>
<path class="f" d="M795 1580 L850 1550 L905 1575 L905 1613 L795 1613 Z"/>
<path class="p" d="M810 1590 L850 1613"/>
<path class="p" d="M1162 1465 L1200 1490 L1200 1445 L1235 1470 L1235 1425 L1272 1450 L1270 1405 L1310 1425 L1305 1380 L1355 1410"/>
<path class="p" d="M1162 1465 Q1175 1540 1185 1613 M1200 1490 Q1215 1550 1222 1613 M1235 1470 Q1250 1550 1258 1613 M1272 1450 Q1290 1540 1296 1613 M1310 1425 Q1330 1520 1335 1613 M1355 1410 Q1372 1520 1372 1613"/>
<path class="p" d="M1200 1445 Q1208 1470 1210 1495 M1235 1425 Q1245 1450 1247 1478 M1270 1405 Q1280 1430 1283 1455 M1305 1380 Q1318 1410 1320 1432"/>
</g>

<!-- a08_drum63.txt -->
<g transform="translate(2100 1900) scale(0.49970)">
<path class="n" d="M445 265L385 520"/>
<path class="n" d="M1010 190L985 270"/>
<path class="n" d="M750 410L925 470"/>
<path class="n" d="M0 598L45 590"/>
<path class="n" d="M1275 640L1085 450"/>
<path class="n" d="M1130 725L1085 620"/>
<path class="n" d="M700 1075L825 740"/>
<path class="n" d="M990 1265L1160 1210"/>
<path class="n" d="M170 1335L190 1550"/>
<path class="p" d="M1410 1222 L1135 1383"/>
<path class="p" d="M1118 1393 L1098 1405"/>
<path class="p" d="M1080 1415 L905 1515 L230 1124"/>
<path class="p" d="M212 1114 L195 1104"/>
<path class="p" d="M178 1094 L0 990"/>
<path class="p" d="M735 600 L890 515"/>
<path class="f" d="M265 590 L330 550 L465 488 Q490 482 502 498 L560 900 L450 985 L330 1050 Q310 1058 285 1052 L250 1045 Q215 1030 208 960 L190 800 Q200 680 265 590 Z"/>
<path class="p" d="M285 612 Q235 700 235 800 L245 990 Q250 1035 285 1052"/>
<path class="p" d="M285 612 L345 575 L470 515"/>
<path class="f" d="M500 510 Q560 480 640 530 L655 560 L698 575 L720 610 L714 640 L730 665 L726 720 L700 742 L690 778 L660 820 Q610 900 500 950 Q430 960 400 940 Q370 920 355 870 L320 890 L290 875 L330 820 Q335 690 400 590 Q440 530 500 510 Z"/>
<path class="p" d="M520 500 L500 510 M330 820 L355 835 L355 870"/>
<path class="p" d="M290 875 L335 850"/>
<ellipse class="p" cx="555" cy="725" rx="102" ry="132" transform="rotate(-20 555 725)"/>
<ellipse class="p" cx="555" cy="728" rx="88" ry="116" transform="rotate(-20 555 728)"/>
<path class="p" d="M480 780 Q470 700 520 640 Q570 590 620 610"/>
<ellipse class="p" cx="560" cy="735" rx="58" ry="76" transform="rotate(-20 560 735)"/>
<path class="p" d="M545 735 L600 700 L612 752 L555 790 Z"/>
<path class="p" d="M560 748 L598 722"/>
<path class="h" d="M498 892 L660 815"/>
<ellipse class="h" cx="490" cy="900" rx="14" ry="18"/>
<path class="f" d="M920 472 Q930 445 965 442 Q1000 450 1005 480 L992 512 Q965 530 935 515 Q918 495 920 472 Z"/>
<path class="p" d="M920 472 Q935 500 965 495 Q995 488 1005 480"/>
<path class="f" d="M1020 395 L1095 335 L1140 390 L1065 450 L1035 455 L1015 430 Z"/>
<ellipse class="p" cx="1095" cy="380" rx="7" ry="10" transform="rotate(-30 1095 380)"/>
<path class="u" style="stroke-width:17px" d="M1050 600 L898 675"/><path class="ui" style="stroke-width:8px" d="M1050 600 L898 675"/><path class="us" style="stroke-width:8px;stroke-dasharray:1 4.5" d="M1050 600 L898 675"/>
<ellipse class="f" cx="898" cy="675" rx="8" ry="17" transform="rotate(25 898 675)"/>
<path class="f" d="M1040 570 L1055 545 L1085 535 L1112 560 L1115 595 L1095 620 L1065 615 L1042 598 Z"/>
<path class="p" d="M1055 545 L1075 575 L1070 612 M1075 575 L1112 560"/>
<path class="f" d="M805 700 L825 682 L855 685 L875 705 L870 730 L845 738 L815 728 Z"/>
<ellipse class="p" cx="832" cy="700" rx="10" ry="13"/>
<path class="p" d="M825 712 L840 735"/>
<path class="p" d="M700 780 L820 715"/>
<path class="p" d="M580 745 L775 848"/>
<path class="p" d="M808 868 L885 920"/>
<path class="f" d="M880 925 L960 830 Q1020 790 1080 820 Q1110 850 1115 930 Q1100 1050 1020 1120 Q960 1150 900 1120 Q860 1090 862 1030 Z"/>
<path class="p" d="M895 935 L975 842 Q1025 810 1075 835"/>
<path class="p" d="M875 1040 Q875 1095 910 1115"/>
<path class="f" d="M1005 885 Q1030 878 1045 900 L1060 1040 Q1050 1062 1030 1060 L950 1065 Q930 1050 935 1020 Z"/>
<path class="p" d="M1020 900 L1040 1035 Q1035 1048 1020 1048 L955 1052"/>
<ellipse class="f" cx="1235" cy="1120" rx="80" ry="115" transform="rotate(-15 1235 1120)"/>
<ellipse class="f" cx="1252" cy="1125" rx="80" ry="112" transform="rotate(-15 1252 1125)"/>
<ellipse class="f" cx="1268" cy="1130" rx="78" ry="108" transform="rotate(-15 1268 1130)"/>
<ellipse class="f" cx="1300" cy="1150" rx="76" ry="98" transform="rotate(-15 1300 1150)"/>
<ellipse class="p" cx="1300" cy="1152" rx="60" ry="82" transform="rotate(-15 1300 1152)"/>
<path class="p" d="M1220 1010 Q1290 990 1345 1065"/>
<path class="p" d="M1230 1235 Q1280 1250 1310 1245"/>
<path class="p" d="M1290 1150 L1410 1222"/>
<path class="f" d="M795 195 Q800 170 830 160 L850 150 L905 180 Q915 190 915 210 L915 290 Q905 320 870 335 L840 335 L795 300 Z"/>
<path class="p" d="M800 185 L845 215 L845 335 M845 215 L905 182"/>
<ellipse class="p" cx="858" cy="232" rx="8" ry="11" transform="rotate(-20 858 232)"/>
<ellipse class="p" cx="885" cy="292" rx="8" ry="11" transform="rotate(-20 885 292)"/>
<path class="p" d="M808 192 L826 202"/>
<ellipse class="f" cx="955" cy="295" rx="14" ry="24" transform="rotate(-15 955 295)"/>
<ellipse class="f" cx="968" cy="296" rx="12" ry="20" transform="rotate(-15 968 296)"/>
<path class="f" d="M975 280 L1015 305 Q1028 318 1018 338 L972 315 Z"/>
<path class="p" d="M995 292 L988 325 M1008 300 L1000 332"/>
<path class="p" d="M1185 213 Q1205 350 1150 480 L1190 500 Q1240 370 1222 213"/>
<path class="p" d="M1190 500 L1215 450 L1245 465 Q1280 350 1258 213"/>
<path class="p" d="M1245 465 L1265 425 L1295 440 Q1318 340 1296 213"/>
<path class="p" d="M1295 440 L1315 400 L1340 415 Q1358 320 1335 213"/>
<path class="p" d="M1340 415 L1350 370 Q1380 300 1372 213"/>
<path class="p" d="M130 1613 L165 1575 L215 1550 L245 1560 L258 1590 L255 1613"/>
<path class="p" d="M150 1613 L180 1585 L225 1565 L245 1572"/>
</g>

<!-- a09_lever2.txt -->
<g transform="translate(1500 1800) scale(0.49970)">
<path class="n" d="M575 12L735 12"/>
<path class="n" d="M890 205L805 335"/>
<path class="n" d="M1065 265L975 425"/>
<path class="n" d="M1420 45L1310 235"/>
<path class="n" d="M1245 790L1150 810"/>
<path class="n" d="M145 1022L310 995"/>
<path class="n" d="M305 1128L395 1050"/>
<path class="p" d="M145 374 L162 384"/>
<path class="p" d="M182 396 L705 705"/>
<path class="p" d="M980 880 L1155 980 L550 1332"/>
<path class="p" d="M532 1343 L515 1353"/>
<path class="p" d="M497 1363 L385 1425 L-430 957 M-455 943 L-470 934 M-495 920 L-554 886"/>
<path class="p" d="M1080 1125 L625 1392"/>
<path class="p" d="M607 1402 L590 1412"/>
<path class="p" d="M572 1422 L240 1613"/>
<path class="p" d="M1080 1125 L1200 1192"/>
<ellipse class="f" cx="943" cy="465" rx="35" ry="46" transform="rotate(-20 943 465)"/>
<ellipse class="f" cx="950" cy="462" rx="30" ry="42" transform="rotate(-20 950 462)"/>
<ellipse class="p" cx="948" cy="466" rx="13" ry="18" transform="rotate(-20 948 466)"/>
<path class="p" d="M950 470 L1040 515"/>
<path class="f" d="M1060 440 L1075 410 L1270 235 Q1300 222 1325 245 Q1340 270 1335 300 L1265 440 L1262 470 L1295 510 Q1302 560 1285 610 L1225 690 L1130 740 L1090 722 L1030 760 L990 790 Q960 802 925 790 L900 762 Q893 720 920 690 L1000 640 L1050 600 Z"/>
<path class="p" d="M915 755 Q910 725 932 700 L1010 652 L1065 608"/>
<ellipse class="p" cx="1190" cy="600" rx="62" ry="92" transform="rotate(22 1190 600)"/>
<path class="p" d="M1235 530 Q1262 560 1245 620"/>
<path class="f" d="M1250 340 Q1248 320 1262 305 L1290 275 Q1305 265 1310 280 Q1312 295 1300 305 L1280 325 L1285 345 L1265 372 Q1250 375 1250 355 Z"/>
<path class="f" d="M1100 470 Q1100 445 1125 438 Q1142 440 1140 462 L1135 505 Q1125 525 1108 522 Q1098 515 1100 495 Z"/>
<path class="f" d="M1010 680 L1060 650 Q1080 645 1082 660 Q1080 675 1062 685 L1020 710 Z"/>
<path class="f" d="M935 715 Q945 690 975 692 L1005 720 Q1025 740 1020 765 Q1010 785 985 782 L945 770 Q925 745 935 715 Z"/>
<ellipse class="p" cx="995" cy="752" rx="22" ry="30" transform="rotate(-20 995 752)"/>
<ellipse class="p" cx="955" cy="730" rx="24" ry="34" transform="rotate(-20 955 730)"/>
<path class="f" d="M762 632 L775 622 L850 597 L882 600 L870 720 L880 775 L975 790 Q960 860 900 895 Q875 910 860 912 L850 880 L820 960 L760 1060 L700 1130 L670 1195 L640 1208 L585 1180 L575 1160 L600 1120 L690 960 L730 890 L725 830 L762 740 Z"/>
<path class="p" d="M775 640 L775 745 L740 835 L745 892 L705 965 L612 1128 L590 1165"/>
<path class="p" d="M762 632 L775 640 L850 610 L882 600"/>
<path class="p" d="M575 1140 Q580 1110 600 1120"/>
<ellipse class="p" cx="650" cy="1162" rx="12" ry="17" transform="rotate(-20 650 1162)"/>
<path class="p" d="M860 840 Q850 905 820 960"/>
<path class="f" d="M780 790 Q790 755 825 748 L875 775 Q905 790 910 825 Q905 860 875 868 L820 855 Q775 830 780 790 Z"/>
<ellipse class="p" cx="885" cy="825" rx="24" ry="36" transform="rotate(-20 885 825)"/>
<path class="p" d="M850 790 Q830 815 850 858"/>
<ellipse class="p" cx="805" cy="795" rx="28" ry="40" transform="rotate(-20 805 795)"/>
<path class="p" d="M312 975 Q315 950 345 940 Q375 940 378 965 L360 975 Q350 955 335 965 L345 985 L335 995 L350 1010 Q330 1025 318 1005 Z"/>
<path class="f" d="M392 1030 Q395 1005 430 988 L525 970 Q550 975 548 995 Q545 1010 525 1015 L455 1068 Q425 1075 405 1062 Q390 1050 392 1030 Z"/>
<path class="p" d="M430 1005 L530 985 M425 1040 Q430 1015 455 1012 L525 1000"/>
<ellipse class="p" cx="445" cy="1040" rx="9" ry="14" transform="rotate(-20 445 1040)"/>
<path class="b" d="M482 1015 L498 1010 L498 1028 L482 1032 Z"/>
<path class="p" d="M455 1045 L555 1100"/>
<ellipse class="f" cx="585" cy="1120" rx="8" ry="12"/>
<ellipse class="f" cx="1065" cy="810" rx="26" ry="48" transform="rotate(-15 1065 810)"/>
<ellipse class="f" cx="1080" cy="808" rx="26" ry="44" transform="rotate(-15 1080 808)"/>
<path class="f" d="M1085 770 L1120 785 Q1150 800 1150 825 Q1148 850 1125 858 L1085 850 Z"/>
<ellipse class="p" cx="1128" cy="822" rx="18" ry="30" transform="rotate(-15 1128 822)"/>
<ellipse class="p" cx="1130" cy="824" rx="8" ry="13" transform="rotate(-15 1130 824)"/>
<path class="p" d="M1155 845 L1365 970"/>
<path class="p" d="M1190 605 L1460 760"/>
</g>

<!-- a10_part61.txt -->
<g transform="translate(400 2200) scale(0.49970)">
<path class="n" d="M848 290L838 665"/>
<path class="n" d="M258 572L370 905"/>
<path class="n" d="M428 612L508 940"/>
<path class="n" d="M1210 580L1222 640"/>
<path class="p" d="M1060 980 L1125 660 L1335 618 L1545 750"/>
<path class="n" d="M605 1290L775 1445"/>
<path class="n" d="M425 1385L625 1520"/>
<path class="n" d="M1255 1500L1415 1335"/>
<path class="n" d="M1385 1613L1535 1405"/>
<path class="p" d="M1646 86 L865 540"/>
<path class="p" d="M815 568 L535 725 L660 800"/>
<path class="p" d="M790 880 L1010 1000"/>
<path class="p" d="M1115 1060 L1380 1215"/>
<path class="p" d="M480 1000 L745 1155"/>
<path class="p" d="M935 1400 L1050 1335"/>
<path class="p" d="M1115 1300 L1470 1095"/>
<path class="p" d="M540 1613 L610 1585"/>
<path class="f" d="M835 665 L915 595 L945 610 L940 640 L980 760 L960 790 L980 800 L970 930 L940 945 L900 1000 L880 1160 L850 1220 L820 1245 L790 1235 L765 1210 L765 1160 L780 1140 L770 1100 L745 1040 L700 1010 Q650 960 645 890 Q660 780 740 720 L800 700 Z"/>
<path class="p" d="M665 895 Q678 795 755 738 L810 715 L850 685 L918 622"/>
<path class="p" d="M685 900 Q698 815 770 760"/>
<path class="p" d="M800 700 L835 720 L915 640 L940 640"/>
<path class="p" d="M835 720 L850 685"/>
<ellipse class="p" cx="792" cy="872" rx="28" ry="38" transform="rotate(-20 792 872)"/>
<ellipse class="p" cx="800" cy="868" rx="16" ry="24" transform="rotate(-20 800 868)"/>
<path class="p" d="M870 720 L905 665 L925 700 L945 760 L915 790 Q890 750 870 720 Z"/>
<path class="p" d="M815 750 L860 745 Q890 780 895 810 L850 830 Q830 790 815 750 Z"/>
<path class="p" d="M845 855 L905 825 L960 815 L955 900 L905 920 Q880 885 845 855 Z"/>
<path class="p" d="M700 880 L770 800 L785 835 L745 905 Z"/>
<path class="p" d="M700 940 L760 935 L775 985 L740 995 Z"/>
<path class="p" d="M810 930 L860 900 L890 930 L870 990 L830 980 Z"/>
<path class="p" d="M795 1005 L860 990 L875 1010 L860 1150 L835 1170 Z"/>
<path class="p" d="M815 1030 L850 1015 L845 1130"/>
<path class="p" d="M765 1160 L800 1180 L810 1140 L780 1140"/>
<path class="p" d="M800 1180 L800 1235"/>
<ellipse class="p" cx="826" cy="1213" rx="10" ry="14" transform="rotate(-20 826 1213)"/>
<path class="p" d="M347 945 Q350 915 382 903 Q412 903 414 930 L396 940 Q386 920 370 930 L380 950 L370 960 L385 975 Q365 992 352 972 Z"/>
<path class="f" d="M430 1000 Q432 975 465 958 L565 935 Q590 940 588 960 Q585 975 565 980 L492 1030 Q462 1040 443 1027 Q428 1015 430 1000 Z"/>
<path class="p" d="M465 975 L568 952 M460 1008 Q465 985 490 980 L565 965"/>
<ellipse class="p" cx="482" cy="1005" rx="9" ry="14" transform="rotate(-20 482 1005)"/>
<path class="b" d="M515 985 L535 978 L535 996 L515 1002 Z"/>
<path class="u" style="stroke-width:27px;stroke-linecap:round" d="M735 1505 L915 1420"/><path class="ui" style="stroke-width:18px;stroke-linecap:round" d="M735 1505 L915 1420"/>
<ellipse class="f" cx="915" cy="1420" rx="12" ry="26" transform="rotate(-25 915 1420)"/>
<ellipse class="f" cx="722" cy="1510" rx="14" ry="28" transform="rotate(-25 722 1510)"/>
<ellipse class="p" cx="737" cy="1510" rx="14" ry="27" transform="rotate(-25 737 1510)"/>
<path class="p" d="M725 1488 L745 1535"/>
<path class="p" d="M775 1460 Q790 1480 782 1510"/>
<path class="p" d="M790 1452 Q805 1472 797 1502"/>
<path class="p" d="M622 1535 Q625 1510 655 1512 Q685 1520 688 1555 Q685 1590 655 1592 L640 1580 Q665 1575 665 1560 L645 1560 L648 1548 L630 1548 Z"/>
<path class="f" d="M1025 970 L1085 995 L1085 1180 L1060 1230 L1095 1300 L1095 1360 L1075 1380 L1030 1355 L1030 1300 L995 1250 L1000 1200 L1025 1170 Z"/>
<path class="p" d="M1025 970 L1040 962 L1090 985 L1085 995"/>
<path class="p" d="M1040 990 L1072 1002 L1072 1175 L1045 1230 L1080 1300 L1080 1365"/>
<path class="p" d="M1030 1300 L1080 1322"/>
<ellipse class="p" cx="1055" cy="1335" rx="8" ry="11"/>
<ellipse class="f" cx="1460" cy="1262" rx="52" ry="78" transform="rotate(22 1460 1262)"/>
<ellipse class="p" cx="1462" cy="1265" rx="24" ry="38" transform="rotate(22 1462 1265)"/>
</g>

<!-- a11_box62.txt -->
<g transform="translate(1200 2500) scale(0.49970)">
<path class="n" d="M1330 75L1125 275"/>
<path class="n" d="M1613 100L1370 250"/>
<path class="n" d="M1290 395L1555 470"/>
<path class="n" d="M1600 740L1545 975"/>
<path class="n" d="M1350 1450L1510 1385"/>
<path class="p" d="M840 210 L755 256"/>
<path class="p" d="M715 280 L295 520 L420 595"/>
<path class="p" d="M570 170 L815 310"/>
<path class="p" d="M0 1080 L100 1030 L155 1060"/>
<path class="p" d="M0 1150 L95 1110 L155 1145"/>
<path class="f" d="M155 1500 L155 990 Q165 890 250 790 L420 610 Q600 460 820 320 L1000 235 Q1040 215 1070 225 L1180 290 L1290 225 Q1305 222 1320 232 L1395 268 Q1415 280 1415 300 L1415 900 Q1412 930 1360 945 L905 1210 L905 1060 L770 1130 L770 1290 L330 1550 L330 1585 Q300 1600 280 1588 L175 1530 Q155 1520 155 1500 Z"/>
<path class="p" d="M285 1590 L285 1050 Q300 950 370 870 L520 710 Q700 555 900 430 L1080 335 Q1150 300 1185 295 L1255 335 L1385 262"/>
<path class="f" d="M340 985 Q600 650 1000 432 L1185 340 L1255 372 L1385 292 L1385 330 L1255 402 L1195 385 Q800 560 520 860 L340 1085 Z"/>
<path class="p" d="M650 748 Q780 620 945 535"/>
<path class="b" d="M630 760 L672 722 L660 755 Z"/>
<path class="b" d="M962 522 L918 532 L938 555 Z"/>
<text x="580" y="808" font-size="34" font-style="italic" transform="rotate(-15 590 795)">F</text>
<text x="982" y="515" font-size="34" font-style="italic" transform="rotate(-15 995 500)">R</text>
<path class="p" d="M995 322 L1112 270 L1138 288 L1020 345 Z"/>
<path class="p" d="M1138 288 L1180 290"/>
<ellipse class="p" cx="718" cy="818" rx="10" ry="14" transform="rotate(25 718 818)"/>
<ellipse class="p" cx="828" cy="830" rx="62" ry="96" transform="rotate(25 828 830)"/>
<path class="p" d="M790 905 Q850 900 880 830 Q895 790 885 750"/>
<ellipse class="p" cx="920" cy="707" rx="9" ry="14" transform="rotate(25 920 707)"/>
<path class="p" d="M932 705 L1365 960"/>
<path class="p" d="M820 830 L1255 1080"/>
<ellipse class="p" cx="215" cy="1215" rx="11" ry="15"/>
<path class="p" d="M195 1262 L240 1282 L240 1412 L195 1390 Z"/>
<path class="h" d="M180 1075 L320 1150"/>
<path class="h" d="M175 1165 L300 1240"/>
<ellipse class="p" cx="335" cy="1263" rx="11" ry="18" transform="rotate(20 335 1263)"/>
<path class="p" d="M345 1266 L740 1490 L520 1613"/>
<path class="p" d="M770 1130 L905 1060 M770 1170 L860 1125 L860 1085 M770 1200 L880 1145 L880 1072 M770 1235 L860 1190 L860 1160 M770 1262 L895 1198 M780 1285 L905 1215"/>
<path d="M858 1085 L858 1140" style="stroke:#000;stroke-width:7px;fill:none;vector-effect:non-scaling-stroke"/>
<path class="p" d="M870 1135 L1085 1240"/>
<path class="p" d="M980 1165 L1290 985"/>
<path class="f" d="M840 1355 L985 1280 L985 1310 L1000 1320 L1085 1275 L1085 1245 L1115 1240 L1155 1280 L1155 1420 L1020 1495 L985 1490 L840 1415 Z"/>
<path class="p" d="M840 1355 L1000 1335 L1155 1280"/>
<path class="p" d="M855 1365 L990 1350 L990 1470 M855 1365 L855 1410 L985 1475"/>
<path class="p" d="M1000 1335 L1020 1350 L1020 1495"/>
<path class="p" d="M870 1350 L975 1298 L975 1320"/>
<path class="p" d="M1085 1275 L1100 1290 Q1130 1290 1140 1270"/>
<path class="p" d="M1020 1350 Q1100 1340 1145 1295"/>
<path d="M968 1340 L968 1365" style="stroke:#000;stroke-width:7px;fill:none;vector-effect:non-scaling-stroke"/>
<path class="n" d="M1070 1465L1105 1613"/>
<ellipse class="f" cx="1548" cy="1422" rx="36" ry="15"/>
<ellipse class="f" cx="1548" cy="1394" rx="36" ry="15"/>
<ellipse class="f" cx="1548" cy="1366" rx="36" ry="15"/>
<ellipse class="f" cx="1548" cy="1338" rx="36" ry="15"/>
<ellipse class="f" cx="1548" cy="1310" rx="36" ry="15"/>
<ellipse class="p" cx="1548" cy="1308" rx="22" ry="8"/>
</g>

<!-- a12_part52.txt -->
<g transform="translate(1100 2300) scale(0.49970)">
<path class="n" d="M320 385L440 408"/>
<path class="f" d="M480 480 Q480 560 615 605 Q750 560 755 480 L745 465 L480 465 Z"/>
<path class="p" d="M495 500 Q500 560 615 585 Q735 560 742 500"/>
<path class="f" d="M495 420 L495 500 Q520 545 615 550 Q715 545 742 495 L742 385 Q720 330 620 325 L560 360 Z"/>
<path class="p" d="M495 420 Q540 465 620 465 Q715 450 742 385"/>
<path class="f" d="M442 375 L530 335 L560 345 L560 360 L495 420 L495 468 L442 440 Z"/>
<path class="p" d="M442 375 L495 400 L560 360 M495 400 L495 420"/>
<path class="p" d="M455 368 L535 332"/>
<path class="p" d="M525 335 L525 375 M548 330 L548 365"/>
<path class="p" d="M520 340 Q500 250 395 178 M553 330 Q530 180 440 95"/>
<path class="p" d="M540 335 Q515 220 420 140"/>
<path class="u" style="stroke-width:17px;stroke-linecap:round" d="M350 45 L430 85"/><path class="ui" style="stroke-width:8px;stroke-linecap:round" d="M350 45 L430 85"/>
<ellipse class="f" cx="430" cy="87" rx="9" ry="15" transform="rotate(-25 430 87)"/>
<ellipse class="f" cx="350" cy="45" rx="9" ry="15" transform="rotate(-25 350 45)"/>
<path class="p" d="M320 118 L335 130 L335 145 L318 135 Z"/>
<path class="p" d="M335 138 L372 155"/>
<ellipse class="f" cx="385" cy="160" rx="13" ry="22" transform="rotate(-25 385 160)"/>
<ellipse class="f" cx="395" cy="166" rx="10" ry="17" transform="rotate(-25 395 166)"/>
<path class="f" d="M148 488 L165 480 L212 505 L212 700 L148 672 Z"/>
<path class="p" d="M148 488 L195 512 L195 690 M195 512 L212 505"/>
<path class="f" d="M148 672 L212 700 Q240 720 235 760 L210 800 L210 870 L195 880 L148 858 L148 790 Q180 740 148 672 Z"/>
<path class="p" d="M180 690 Q212 740 180 800 L150 790 M210 800 L180 800 M195 880 L195 810"/>
<path class="u" style="stroke-width:15px" d="M88 882 L160 850"/><path class="ui" style="stroke-width:6px" d="M88 882 L160 850"/><path class="us" style="stroke-width:6px;stroke-dasharray:1 4.5" d="M88 882 L160 850"/>
<ellipse class="f" cx="88" cy="882" rx="7" ry="15" transform="rotate(-25 88 882)"/>
<path class="f" d="M125 838 L140 825 L165 835 L170 860 L150 875 L130 865 Z"/>
<path class="u" style="stroke-width:17px" d="M222 805 L285 778"/><path class="ui" style="stroke-width:8px" d="M222 805 L285 778"/><path class="us" style="stroke-width:8px;stroke-dasharray:1 4.5" d="M222 805 L285 778"/>
<path class="f" d="M262 760 L285 748 L302 765 L302 795 L282 812 L265 800 Z"/>
<path class="p" d="M142 545 L0 460"/>
<path class="p" d="M62 895 L0 930"/>
<ellipse class="f" cx="145" cy="1135" rx="35" ry="72" transform="rotate(-12 145 1135)"/>
<ellipse class="f" cx="160" cy="1138" rx="33" ry="66" transform="rotate(-12 160 1138)"/>
<ellipse class="f" cx="202" cy="1142" rx="55" ry="76" transform="rotate(-12 202 1142)"/>
<ellipse class="p" cx="202" cy="1144" rx="36" ry="52" transform="rotate(-12 202 1144)"/>
<path class="p" d="M135 1065 Q180 1050 215 1070"/>
<path class="p" d="M150 1205 Q190 1222 215 1218"/>
<path class="p" d="M215 1150 L380 1245"/>
</g>

<!-- a13_nut40.txt -->
<g transform="translate(400 2900) scale(0.49970)">
<path class="n" d="M343 695L440 550"/>
<path class="n" d="M528 800L548 668"/>
<path class="f" d="M418 520 Q415 495 440 475 L470 468 Q498 478 500 505 L495 540 Q480 560 455 558 L425 545 Z"/>
<ellipse class="p" cx="468" cy="518" rx="22" ry="30" transform="rotate(-15 468 518)"/>
<ellipse class="p" cx="470" cy="520" rx="10" ry="15" transform="rotate(-15 470 520)"/>
<path class="p" d="M440 475 L450 500 L445 552"/>
<ellipse class="f" cx="572" cy="580" rx="60" ry="90" transform="rotate(22 572 580)"/>
<ellipse class="p" cx="570" cy="583" rx="11" ry="20" transform="rotate(22 570 583)"/>
<path class="p" d="M578 585 L735 670"/>
<path class="k" d="M755 490 L755 705"/>
<path class="k" d="M800 510 L800 725"/>
<path class="n" d="M745 705 L745 740 Q760 770 815 790 Q840 790 855 770"/>
<path class="n" d="M760 745 L800 765 L800 725"/>
<ellipse class="p" cx="832" cy="730" rx="10" ry="16"/>
<path class="n" d="M845 520 Q835 545 860 550 L912 518 M912 485 L850 515 M845 590 Q835 615 860 620 L915 590 M915 555 L850 585 M880 660 Q870 685 895 690 L972 645 M972 610 L885 655 M890 745 L970 705"/>
<path class="p" d="M610 190 L548 222 L690 305"/>
<path class="p" d="M702 312 L712 318"/>
<path class="p" d="M724 325 L1135 558 L1200 520"/>
<path class="p" d="M1225 505 L1240 497"/>
<path class="p" d="M1268 481 L1613 285"/>
<path class="p" d="M838 735 L910 772 L1310 540"/>
<path class="p" d="M1335 525 L1350 517"/>
<path class="p" d="M1378 500 L1613 365"/>
</g>

<!-- a14_bolt39.txt -->
<g transform="translate(1200 3100) scale(0.49970)">
<path class="p" d="M520 412 L360 510 L450 555"/>
<path class="n" d="M1105 412L1125 505"/>
<path class="n" d="M620 690L540 950"/>
<path class="n" d="M1110 893L1320 845"/>
<path class="n" d="M1108 1105L1280 1030"/>
<path class="n" d="M1405 1218L1585 1060"/>
<path class="u" style="stroke-width:17px" d="M480 595 L548 630"/><path class="ui" style="stroke-width:8px" d="M480 595 L548 630"/><path class="us" style="stroke-width:8px;stroke-dasharray:1 4.5" d="M480 595 L548 630"/>
<path class="u" style="stroke-width:14px;stroke-linecap:round" d="M548 630 L835 792"/><path class="ui" style="stroke-width:5px;stroke-linecap:round" d="M548 630 L835 792"/>
<ellipse class="f" cx="480" cy="594" rx="7" ry="16" transform="rotate(-28 480 594)"/>
<path class="f" d="M828 778 Q840 762 862 765 Q890 775 893 800 Q890 830 865 835 Q835 830 825 805 Z"/>
<ellipse class="p" cx="868" cy="800" rx="18" ry="30" transform="rotate(-20 868 800)"/>
<path class="p" d="M862 790 Q875 792 872 810"/>
<ellipse class="f" cx="1335" cy="828" rx="15" ry="26" transform="rotate(-20 1335 828)"/>
<ellipse class="f" cx="1348" cy="830" rx="14" ry="24" transform="rotate(-20 1348 830)"/>
<path class="u" style="stroke-width:15px" d="M1360 838 L1405 858"/><path class="ui" style="stroke-width:6px" d="M1360 838 L1405 858"/><path class="us" style="stroke-width:6px;stroke-dasharray:1 4.5" d="M1360 838 L1405 858"/>
<ellipse class="f" cx="1405" cy="858" rx="7" ry="14" transform="rotate(-20 1405 858)"/>
<path class="f" d="M1275 1030 Q1278 1008 1295 998 L1490 878 Q1515 870 1522 890 Q1525 910 1510 922 L1312 1062 Q1290 1068 1280 1055 Z"/>
<ellipse class="p" cx="1310" cy="1022" rx="9" ry="13" transform="rotate(-20 1310 1022)"/>
<ellipse class="p" cx="1495" cy="910" rx="9" ry="13" transform="rotate(-20 1495 910)"/>
<path class="p" d="M1505 912 L1580 955"/>
</g>

<!-- a15_handle27.txt -->
<g transform="translate(1800 2600) scale(0.49970)">
<path class="n" d="M575 645L540 945"/>
<path class="n" d="M985 790L965 600"/>
<path class="n" d="M1160 920L1110 740"/>
<path class="n" d="M1445 295L1375 450"/>
<path class="n" d="M775 0L795 160"/>
<path class="p" d="M655 855 L955 1042"/>
<path class="p" d="M985 1060 L1010 1075"/>
<path class="p" d="M1040 1095 L1280 1225"/>
<path class="p" d="M655 855 L655 1406 M655 1554 L655 1613"/>
<path class="p" d="M230 985 L770 1295"/>
<path class="p" d="M840 1335 L1170 1525"/>
<path class="p" d="M0 660 L165 760"/>
<path class="p" d="M0 830 L55 880"/>
<path class="f" d="M25 1095 L28 1040 Q60 930 140 830 Q200 765 270 755 Q340 765 390 820 L413 860 L413 920 L330 990 L320 935 Q280 910 230 935 Q185 975 170 1035 L170 1085 L85 1132 Z"/>
<path class="p" d="M85 1132 L88 1075 Q120 970 190 890 Q250 835 310 830 Q360 840 413 900"/>
<path class="p" d="M120 885 L320 805 L348 820 L145 910 Z"/>
<path class="p" d="M145 910 L140 925 L350 835 L348 820"/>
<ellipse class="p" cx="148" cy="988" rx="8" ry="12"/>
<path class="p" d="M105 1025 L160 1000 L160 1055 L105 1085 Z"/>
<path class="p" d="M115 1035 L140 1050 L140 1070 M140 1050 L160 1038"/>
<path class="p" d="M275 920 L275 960 L330 990 M330 900 L330 950 L385 920 L385 890"/>
<path class="p" d="M345 895 L345 930 L375 915"/>
<ellipse class="p" cx="340" cy="870" rx="8" ry="12"/>
<path class="k" d="M345 870 L440 920"/>
<path class="f" d="M515 985 Q520 955 548 945 Q572 950 575 975 Q570 1005 545 1018 Q520 1015 515 985 Z"/>
<path class="p" d="M530 965 L560 1000 M535 1000 L562 968"/>
<path class="u" style="stroke-width:16px" d="M460 940 L520 972"/><path class="ui" style="stroke-width:7px" d="M460 940 L520 972"/><path class="us" style="stroke-width:7px;stroke-dasharray:1 4.5" d="M460 940 L520 972"/>
<ellipse class="f" cx="460" cy="940" rx="7" ry="15" transform="rotate(-25 460 940)"/>
<path class="f" d="M725 200 L740 185 L825 150 L858 165 L858 340 L780 382 L740 372 L725 360 Z"/>
<path class="p" d="M740 200 L825 165 L840 172 M740 200 L740 372 M755 205 L755 378 M770 212 L770 384"/>
<path class="p" d="M780 225 L858 190 M780 225 L780 382"/>
<path class="f" d="M790 245 L850 222 L850 350 L790 375 Z"/>
<path d="M800 290 L825 280 M800 355 L825 345" style="stroke:#000;stroke-width:5px;fill:none;vector-effect:non-scaling-stroke"/>
<path class="f" d="M850 290 Q855 250 890 235 L945 280 Q960 300 950 370 L900 415 Q870 410 855 390 Q870 340 850 290 Z"/>
<path class="p" d="M890 235 Q880 300 900 415 M870 300 Q880 340 868 380"/>
<path class="p" d="M780 385 L790 610 M800 380 L800 610 M820 372 L812 610"/>
<path class="f" d="M765 625 Q770 605 800 605 Q830 608 835 630 L835 680 L848 685 L848 720 L835 725 L840 770 L850 775 L850 810 L835 818 L838 890 Q830 912 800 910 Q770 905 765 885 L765 820 L778 800 L765 780 Z"/>
<ellipse class="p" cx="800" cy="625" rx="34" ry="14"/>
<path class="p" d="M780 700 Q810 715 835 700 M778 800 Q800 790 800 770 L800 740"/>
<ellipse class="p" cx="815" cy="900" rx="18" ry="8"/>
<path class="f" d="M762 1005 Q765 985 800 985 Q830 988 835 1005 L835 1130 Q825 1150 800 1150 Q770 1148 762 1130 Z"/>
<ellipse class="p" cx="798" cy="1000" rx="35" ry="14"/>
<path class="p" d="M775 1150 L782 1290 M800 1152 L800 1290 M822 1148 L815 1290"/>
<path class="p" d="M782 1290 Q790 1450 700 1460 M800 1290 Q810 1470 705 1480 M815 1290 Q830 1490 705 1500"/>
<path class="u" style="stroke-width:12px;stroke-linecap:round" d="M600 1440 L690 1465"/><path class="ui" style="stroke-width:3px;stroke-linecap:round" d="M600 1440 L690 1465"/>
<path class="u" style="stroke-width:12px;stroke-linecap:round" d="M590 1470 L680 1495"/><path class="ui" style="stroke-width:3px;stroke-linecap:round" d="M590 1470 L680 1495"/>
<path class="u" style="stroke-width:12px;stroke-linecap:round" d="M578 1500 L668 1525"/><path class="ui" style="stroke-width:3px;stroke-linecap:round" d="M578 1500 L668 1525"/>
<path class="p" d="M660 1445 L655 1465 M672 1448 L668 1468 M650 1475 L645 1495 M662 1478 L658 1498 M638 1505 L633 1525 M650 1508 L646 1528"/>
<path class="f" d="M1130 345 L1590 580 Q1620 640 1613 720 Q1590 800 1500 820 L1075 575 Q1030 520 1048 430 Q1075 350 1130 345 Z"/>
<ellipse class="p" cx="1545" cy="700" rx="68" ry="122" transform="rotate(-10 1545 700)"/>
<ellipse class="p" cx="1538" cy="700" rx="14" ry="62" transform="rotate(-10 1538 700)"/>
<path class="f" d="M1295 665 L1295 1110 L1365 1160 L1530 1070 L1530 815 L1365 720 Z"/>
<path class="p" d="M1365 700 L1365 1160"/>
<path class="h" d="M1060 490 L1195 545"/>
<path class="h" d="M1195 500 L1215 505 L1212 525"/>
<path class="h" d="M1185 690 L1380 625"/>
<path class="h" d="M1375 608 L1390 620 L1385 640"/>
<path class="u" style="stroke-width:15px" d="M966 495 L966 560"/><path class="ui" style="stroke-width:6px" d="M966 495 L966 560"/><path class="us" style="stroke-width:6px;stroke-dasharray:1 4.5" d="M966 495 L966 560"/>
<ellipse class="f" cx="966" cy="495" rx="14" ry="6"/>
<path class="f" d="M935 565 Q938 552 968 550 Q1000 552 1003 565 L1003 590 Q995 602 968 603 Q940 602 935 590 Z"/>
<path class="p" d="M935 575 Q968 590 1003 575"/>
<path class="p" d="M965 490 L965 435 L1010 460"/>
<path class="p" d="M975 360 L1040 400"/>
<ellipse class="f" cx="1095" cy="705" rx="16" ry="30" transform="rotate(-15 1095 705)"/>
<ellipse class="f" cx="1108" cy="703" rx="14" ry="26" transform="rotate(-15 1108 703)"/>
<path class="u" style="stroke-width:15px" d="M1120 700 L1180 688"/><path class="ui" style="stroke-width:6px" d="M1120 700 L1180 688"/><path class="us" style="stroke-width:6px;stroke-dasharray:1 4.5" d="M1120 700 L1180 688"/>
<ellipse class="f" cx="1180" cy="688" rx="6" ry="14" transform="rotate(-10 1180 688)"/>
</g>

<!-- a16_lever57.txt -->
<g transform="translate(2200 3100) scale(0.49970)">
<path class="n" d="M300 1075L410 915"/>
<path class="n" d="M1220 1185L1105 1010"/>
<path class="n" d="M65 915L0 1180"/>
<ellipse class="f" cx="545" cy="690" rx="192" ry="288" transform="rotate(28 545 690)"/>
<path class="f" d="M497 110 L497 280 L400 520 L460 555 L560 305 L564 160 Z"/>
<path class="p" d="M497 280 L560 305"/>
<path class="f" d="M715 75 L715 250 L800 420 Q830 490 832 580 L700 600 L560 420 L564 160 Z"/>
<path class="w" d="M540 300 L720 260 L820 560 L480 560 Z"/>
<path class="p" d="M564 160 L560 305 L460 555"/>
<path class="p" d="M715 75 L715 250 L800 420 Q830 490 832 580"/>
<ellipse class="f" cx="618" cy="682" rx="188" ry="288" transform="rotate(28 618 682)"/>
<ellipse class="p" cx="628" cy="680" rx="176" ry="274" transform="rotate(28 628 680)"/>
<ellipse class="p" cx="617" cy="668" rx="45" ry="68" transform="rotate(24 617 668)"/>
<path class="p" d="M585 715 Q575 660 620 612"/>
<path class="h" d="M500 235 L670 320"/>
<ellipse class="h" cx="683" cy="335" rx="10" ry="16"/>
<ellipse class="f" cx="962" cy="885" rx="190" ry="285" transform="rotate(28 962 885)"/>
<ellipse class="p" cx="985" cy="892" rx="178" ry="266" transform="rotate(28 985 892)"/>
<ellipse class="f" cx="1010" cy="905" rx="155" ry="234" transform="rotate(28 1010 905)"/>
</g>

<!-- a17_part28.txt -->
<g transform="translate(1700 3200) scale(0.49970)">
<path class="f" d="M425 125 L535 62 L570 80 L700 165 Q725 220 730 330 L730 1060 L620 1130 L585 1105 L585 990 L605 980 L605 865 L585 855 L580 330 Q575 295 550 280 L470 225 Q430 190 425 125 Z"/>
<path class="p" d="M425 125 L590 215 Q630 250 635 330 L628 1125"/>
<path class="p" d="M590 215 L700 165"/>
<path class="p" d="M585 855 L585 330"/>
<ellipse class="f" cx="548" cy="128" rx="28" ry="14"/>
<ellipse class="p" cx="548" cy="131" rx="16" ry="8"/>
<path class="p" d="M548 55 L548 128"/>
<path class="p" d="M648 420 L708 388 L708 790 L648 825 Z"/>
<path class="p" d="M662 438 L695 420 L695 770 L662 790"/>
<path class="p" d="M648 805 L708 772"/>
<path class="p" d="M648 852 L708 818 L708 890 L648 925 Z"/>
<path class="p" d="M662 860 L662 905 L700 885"/>
<path class="p" d="M648 955 L708 920 L708 1000 L648 1035 Z"/>
<path class="p" d="M662 965 L662 1015 L700 995"/>
<path class="p" d="M648 1045 L708 1012 L708 1045 L648 1078 Z"/>
<path class="p" d="M605 865 L590 872 M605 980 L590 988"/>
<path class="p" d="M675 868 L910 1003"/>
<path class="p" d="M855 412 L855 925"/>
<path class="p" d="M740 855 L857 925"/>
<path class="f" d="M918 1020 L975 990 Q1005 990 1010 1015 L1010 1085 Q1000 1108 975 1105 L940 1112 L918 1100 Z"/>
<path class="p" d="M918 1020 L945 1035 L945 1112 M945 1035 L975 1020 Q990 1000 985 990"/>
<ellipse class="p" cx="988" cy="1020" rx="12" ry="18"/>
<path class="p" d="M975 1020 L975 1105"/>
<ellipse class="p" cx="548" cy="12" rx="32" ry="12"/>
</g>

<!-- a18_part3.txt -->
<g transform="translate(1600 1400) scale(0.37570)">
<path class="n" d="M993 288L795 610"/>
<path class="n" d="M1243 410L1080 665"/>
<path class="p" d="M600 612 L645 640"/>
<ellipse class="f" cx="732" cy="697" rx="82" ry="110" transform="rotate(25 732 697)"/>
<ellipse class="p" cx="742" cy="700" rx="74" ry="100" transform="rotate(25 742 700)"/>
<ellipse class="p" cx="738" cy="702" rx="46" ry="70" transform="rotate(25 738 702)"/>
<ellipse class="p" cx="745" cy="704" rx="42" ry="64" transform="rotate(25 745 704)"/>
<ellipse class="f" cx="958" cy="807" rx="128" ry="182" transform="rotate(25 958 807)"/>
<ellipse class="p" cx="968" cy="806" rx="116" ry="168" transform="rotate(25 968 806)"/>
<path class="p" d="M935 680 L965 665 Q1010 650 1040 690 Q1065 740 1050 800 Q1030 870 990 905 L960 930 Q930 945 905 930 L890 900 Q870 850 885 790 Q895 730 935 680 Z"/>
<path class="p" d="M950 700 Q1000 680 1030 720 Q1045 770 1030 820 Q1010 870 975 895"/>
<ellipse class="p" cx="948" cy="765" rx="9" ry="13" transform="rotate(25 948 765)"/>
<ellipse class="p" cx="945" cy="855" rx="9" ry="13" transform="rotate(25 945 855)"/>
<ellipse class="p" cx="900" cy="885" rx="14" ry="20" transform="rotate(25 900 885)"/>
</g>

<!-- a19_left16.txt -->
<g transform="translate(400 1000) scale(0.66644)">
<path class="n" d="M715 858L870 865"/>
<path class="n" d="M715 1022L815 1012"/>
<path class="n" d="M715 1327L985 1310"/>
<path class="n" d="M715 1598L985 1575"/>
<ellipse class="f" cx="920" cy="838" rx="48" ry="92" transform="rotate(-12 920 838)"/>
<ellipse class="f" cx="935" cy="842" rx="46" ry="88" transform="rotate(-12 935 842)"/>
<ellipse class="f" cx="950" cy="846" rx="45" ry="85" transform="rotate(-12 950 846)"/>
<ellipse class="f" cx="987" cy="862" rx="56" ry="76" transform="rotate(-12 987 862)"/>
<ellipse class="p" cx="987" cy="864" rx="43" ry="60" transform="rotate(-12 987 864)"/>
<path class="p" d="M905 752 Q960 735 1000 790"/>
<path class="p" d="M915 925 Q950 940 985 938"/>
<path class="p" d="M965 850 L1030 885 L1130 828 L1195 862"/>
<ellipse class="f" cx="833" cy="1003" rx="13" ry="24" transform="rotate(-15 833 1003)"/>
<path class="u" style="stroke-width:16px" d="M845 1008 L890 1030"/><path class="ui" style="stroke-width:7px" d="M845 1008 L890 1030"/><path class="us" style="stroke-width:7px;stroke-dasharray:1 4.5" d="M845 1008 L890 1030"/>
<ellipse class="f" cx="890" cy="1030" rx="6" ry="13" transform="rotate(-15 890 1030)"/>
<path class="p" d="M898 1042 L975 1085"/>
</g>

<!-- a20_fwd.txt -->
<g transform="translate(460 3860) scale(0.16119)">
<path d="M178 1000 L592 358 L692 415 L692 490 L1300 152 L1402 208 L1402 712 L692 1112 L692 1295 Z" style="fill:#fff;stroke:#000;stroke-width:5.6px;stroke-linejoin:miter;vector-effect:non-scaling-stroke"/>
<path d="M692 490 L692 612 L1390 228 M1300 152 L1300 152" style="fill:none;stroke:#000;stroke-width:5px;vector-effect:non-scaling-stroke"/>
<path d="M295 1045 L668 438 M1390 228 L1402 208" style="fill:none;stroke:#000;stroke-width:2.4px;vector-effect:non-scaling-stroke"/>
<path d="M1392 228 L1392 705" style="fill:none;stroke:#000;stroke-width:3px;vector-effect:non-scaling-stroke"/>
</g>

<!-- a21_conn50b.txt -->
<g transform="translate(1170 1030) scale(0.24799)">
<path class="f" d="M690 160 L760 100 Q830 85 900 140 Q980 250 985 370 L965 420 L880 470 L830 480 L780 500 Z"/>
<path class="p" d="M700 160 Q800 250 840 480"/>
<path class="p" d="M730 135 Q830 230 870 470"/>
<path class="p" d="M765 110 Q860 210 900 455"/>
<path class="p" d="M800 100 Q890 190 930 440"/>
<path class="p" d="M840 100 Q930 200 955 425"/>
<path class="f" d="M520 300 L585 255 Q595 200 650 178 L695 160 Q800 300 830 480 L790 515 L700 520 L660 525 L610 590 Z"/>
<path class="p" d="M585 232 Q640 320 660 525"/>
<path class="p" d="M650 182 Q745 300 790 510"/>
<path class="p" d="M565 305 L640 265"/>
<path class="p" d="M600 385 L720 330"/>
<path class="p" d="M625 425 L745 365"/>
<path class="p" d="M655 510 L775 460"/>
<path class="p" d="M612 250 Q690 330 720 500"/>
<path class="f" d="M95 470 Q100 420 190 330 L370 225 Q420 210 470 250 L520 300 L610 590 Q605 640 560 700 L380 835 Q350 865 300 860 L215 810 Q175 740 150 700 Q95 590 95 470 Z"/>
<path class="p" d="M110 480 L190 350 Q230 340 290 380 L345 440 Q420 560 435 680 L385 820 Q350 850 300 845 L220 800 Q180 740 160 700 Q105 590 110 480 Z"/>
<path class="p" d="M135 490 L200 375 Q235 365 285 400 L330 450 Q395 560 410 670 L365 790 Q340 815 300 812 L235 775 Q200 730 180 690 Q130 590 135 490 Z"/>
<ellipse class="p" cx="245" cy="605" rx="98" ry="148" transform="rotate(-15 245 605)"/>
<path class="p" d="M205 470 Q300 470 340 620 Q350 700 320 745"/>
<path class="p" d="M365 385 L480 320"/>
<path class="p" d="M395 470 L530 402"/>
<path class="p" d="M190 330 Q260 320 330 380 L520 300"/>
<path class="p" d="M385 830 L560 700"/>
<path class="p" d="M200 380 L280 335"/>
</g>

<!-- a22_bolt33.txt -->
<g transform="translate(1800 1900) scale(0.18598)">
<path class="u" style="stroke-width:24px;stroke-linecap:round" d="M430 415 L690 570"/><path class="ui" style="stroke-width:15px;stroke-linecap:round" d="M430 415 L690 570"/>
<ellipse class="f" cx="712" cy="585" rx="34" ry="62" transform="rotate(-28 712 585)"/>
<path class="p" d="M548 430 Q505 475 528 535"/>
<path class="p" d="M590 455 Q548 500 572 560"/>
<path class="p" d="M632 480 Q590 525 615 585"/>
<path class="p" d="M672 505 Q632 548 655 608"/>
<path class="f" d="M240 420 L262 305 L330 248 L400 245 L470 288 L495 345 L485 400 L440 480 L385 520 L330 515 L258 468 Z"/>
<path class="p" d="M262 305 Q300 290 345 320 Q325 400 330 515"/>
<path class="p" d="M345 320 L400 290 L470 288"/>
<path class="p" d="M262 390 L320 420 M280 330 L335 360"/>
<ellipse class="p" cx="400" cy="395" rx="72" ry="108" transform="rotate(-22 400 395)"/>
<ellipse class="p" cx="415" cy="405" rx="50" ry="80" transform="rotate(-22 415 405)"/>
</g>

<!-- b01_tl.txt -->
<g transform="translate(400 480) scale(0.66644)">
<path class="n" d="M668 170L780 410"/>
<path class="n" d="M757 425L805 400"/>
<path class="n" d="M595 688L580 975"/>
<path class="n" d="M1350 555L1405 880"/>
<path class="n" d="M1075 1155L985 1290"/>
</g>

<g id="labels">


<text class="l" transform="translate(1539.7 1928.2) scale(1.26 1)">21</text>
<text class="l" transform="translate(1624.6 1975.6) scale(1.26 1)">23</text>
<text class="l" transform="translate(1704.6 2020.6) scale(1.26 1)">36</text>
<text class="l" transform="translate(1612.1 1148.4) scale(1.26 1)">58</text>
<text class="l" transform="translate(1684.6 1298.3) scale(1.26 1)">54</text>
<text class="l" transform="translate(1407.3 1384.8) scale(1.26 1)">15</text>
<text class="l" transform="translate(1557.4 693.4) scale(1.26 1)">47</text>
<text class="l" transform="translate(2077.1 556) scale(1.26 1)">44</text>
<text class="l" transform="translate(2084.6 708.4) scale(1.26 1)">46</text>
<text class="l" transform="translate(2232.4 623.4) scale(1.26 1)">45</text>
<text class="l" transform="translate(2713.6 603.4) scale(1.26 1)">20</text>
<text class="l" transform="translate(2801.1 1028.2) scale(1.26 1)">53</text>
<text class="l" transform="translate(2288.9 1605.8) scale(1.26 1)">55</text>
<text class="l" transform="translate(2437.3 1498.3) scale(1.26 1)">48</text>
<text class="l" transform="translate(2473.8 1345.9) scale(1.26 1)">49</text>
<text class="l" transform="translate(2766.1 1705.7) scale(1.26 1)">22</text>
<text class="l" transform="translate(2479.8 1743.2) scale(1.26 1)">51</text>
<text class="l" transform="translate(2416.3 1820.6) scale(1.26 1)">38</text>
<text class="l" transform="translate(2232.4 1813.1) scale(1.26 1)">2</text>
<text class="l" transform="translate(2610.7 1979.5) scale(1.26 1)">36</text>
<text class="l" transform="translate(2322.4 2020.9) scale(1.26 1)">63</text>
<text class="l" transform="translate(2422.3 2115.9) scale(1.26 1)">13</text>
<text class="l" transform="translate(2162.5 2213.3) scale(1.26 1)">12</text>
<text class="l" transform="translate(2759.6 2268.3) scale(1.26 1)">17</text>
<text class="l" transform="translate(2674.7 2305.8) scale(1.26 1)">8</text>
<text class="l" transform="translate(2442.3 2490.6) scale(1.26 1)">7</text>
<text class="l" transform="translate(2547.2 2560.6) scale(1.26 1)">16</text>
<text class="l" transform="translate(2180 2553.1) scale(1.26 1)">56</text>
<text class="l" transform="translate(1904.8 1821) scale(1.26 1)">18</text>
<text class="l" transform="translate(1958.7 1883.5) scale(1.26 1)">33</text>
<text class="l" transform="translate(2053.7 1918.4) scale(1.26 1)">34</text>
<text class="l" transform="translate(1527.5 2335.7) scale(1.26 1)">10</text>
<text class="l" transform="translate(1620.9 2413.1) scale(1.26 1)">19</text>
<text class="l" transform="translate(1897.3 2530.6) scale(1.26 1)">65</text>
<text class="l" transform="translate(2025.7 2544.6) scale(1.26 1)">62</text>
<text class="l" transform="translate(818.7 2331.9) scale(1.26 1)">61</text>
<text class="l" transform="translate(528.9 2470.8) scale(1.26 1)">10</text>
<text class="l" transform="translate(619.9 2491.8) scale(1.26 1)">19</text>
<text class="l" transform="translate(1005.6 2473.3) scale(1.26 1)">6</text>
<text class="l" transform="translate(673.8 2845.6) scale(1.26 1)">9</text>
<text class="l" transform="translate(568.9 2898.1) scale(1.26 1)">10</text>
<text class="l" transform="translate(1005.6 2995.5) scale(1.26 1)">5</text>
<text class="l" transform="translate(1827.1 3265.5) scale(1.26 1)">24</text>
<text class="l" transform="translate(1210.9 2506.9) scale(1.26 1)">52</text>
<text class="l" transform="translate(1074.6 3053.4) scale(1.26 1)">4</text>
<text class="l" transform="translate(559.9 3300.8) scale(1.26 1)">40</text>
<text class="l" transform="translate(657.3 3354.7) scale(1.26 1)">42</text>
<text class="l" transform="translate(1765.7 3405.8) scale(1.26 1)">30</text>
<text class="l" transform="translate(1463.3 3624.7) scale(1.26 1)">39</text>
<text class="l" transform="translate(1705.7 3569.7) scale(1.26 1)">35</text>
<text class="l" transform="translate(1692.2 3684.6) scale(1.26 1)">26</text>
<text class="l" transform="translate(1855.6 3760.6) scale(1.26 1)">28</text>
<text class="l" transform="translate(2031.4 2765.9) scale(1.26 1)">43</text>
<text class="l" transform="translate(1997.4 2850.9) scale(1.26 1)">11</text>
<text class="l" transform="translate(2087.3 2903.3) scale(1.26 1)">32</text>
<text class="l" transform="translate(2292.2 3048.2) scale(1.26 1)">37</text>
<text class="l" transform="translate(2378.7 3113.2) scale(1.26 1)">35</text>
<text class="l" transform="translate(2534.6 2730.9) scale(1.26 1)">27</text>
<text class="l" transform="translate(2333.9 3695.6) scale(1.26 1)">57</text>
<text class="l" transform="translate(2815.6 3749.6) scale(1.26 1)">29</text>
<text class="l" transform="translate(2237.5 3543.2) scale(1.26 1)">25</text>

<text class="l" transform="translate(1999 1493) scale(1.26 1)">14</text>
<text class="l" transform="translate(2094 1538.1) scale(1.26 1)">3</text>
<text class="l" transform="translate(827.5 1595.5) scale(1.26 1)">16</text>
<text class="l" transform="translate(824.9 1710.1) scale(1.26 1)">32</text>
<text class="l" transform="translate(827.5 1900.7) scale(1.26 1)">59</text>
<text class="l" transform="translate(827.5 2094) scale(1.26 1)">60</text>



<text class="l" transform="translate(831 573.5) scale(1.26 1)">1</text>
<text class="l" transform="translate(788.5 926) scale(1.26 1)">41</text>
<text class="l" transform="translate(1290.4 836) scale(1.26 1)">50</text>
<text class="l" transform="translate(1123.1 1237.4) scale(1.26 1)">31</text>
</g>
<text id="fwd" transform="matrix(0.62,-0.347,0,1,567,4032)" font-weight="bold" font-size="78" stroke="#000" stroke-width="1.5">FWD</text>
</svg>
</body>
</html>
